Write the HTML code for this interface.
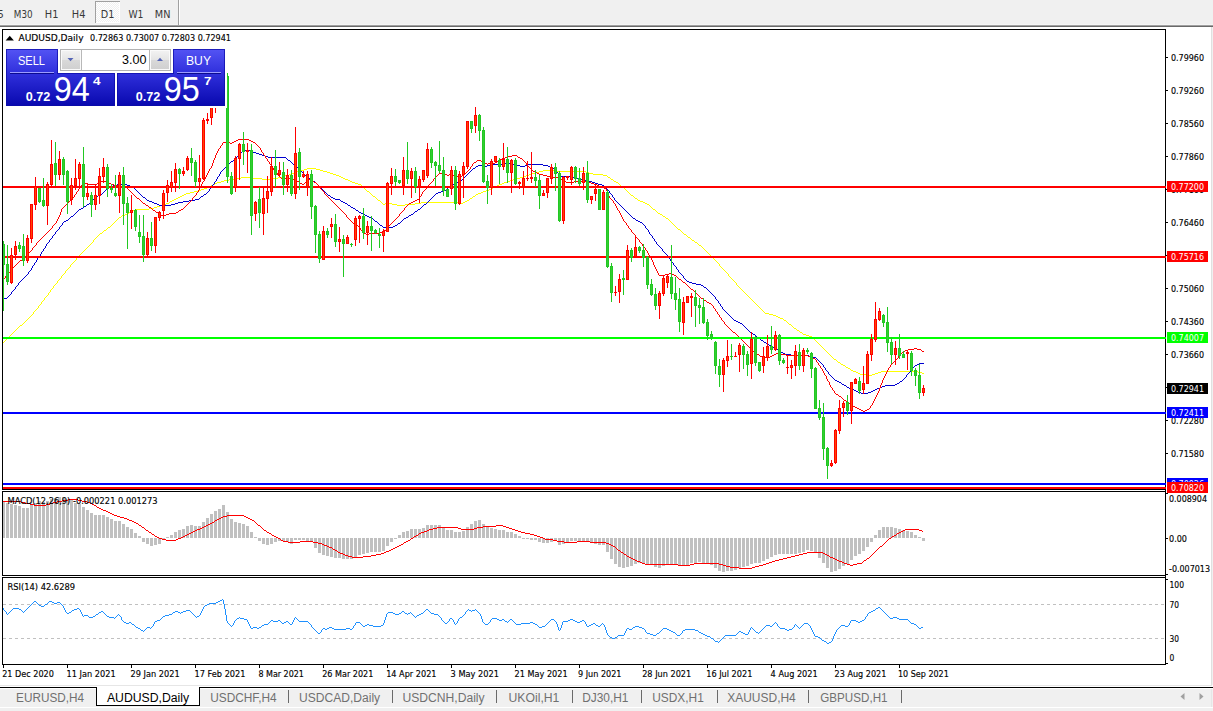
<!DOCTYPE html>
<html><head><meta charset="utf-8"><title>AUDUSD,Daily</title>
<style>
html,body{margin:0;padding:0;background:#fff;overflow:hidden}
svg{display:block;font-family:"Liberation Sans",Arial,sans-serif}
.c{shape-rendering:crispEdges}
</style></head><body>
<svg width="1213" height="711" viewBox="0 0 1213 711">
<defs>
<linearGradient id="gb" x1="0" y1="0" x2="0" y2="1"><stop offset="0" stop-color="#5454f4"/><stop offset="0.42" stop-color="#3030dc"/><stop offset="1" stop-color="#0808ae"/></linearGradient>
<linearGradient id="gs" x1="0" y1="0" x2="0" y2="1"><stop offset="0" stop-color="#f2f2f2"/><stop offset="0.5" stop-color="#e4e4e4"/><stop offset="0.5" stop-color="#d9d9d9"/><stop offset="1" stop-color="#d0d0d0"/></linearGradient>
<clipPath id="cm"><rect x="3" y="30" width="1162" height="459"/></clipPath>
<pattern id="dots" width="2" height="2" patternUnits="userSpaceOnUse"><rect width="2" height="2" fill="#f0f0f0"/><rect width="1" height="1" fill="#fff"/><rect x="1" y="1" width="1" height="1" fill="#fff"/></pattern>
</defs>
<g class="c">
<rect x="0" y="0" width="1213" height="711" fill="#fff"/>
<rect x="0" y="0" width="1213" height="24" fill="#f0f0f0"/>
<rect x="0" y="24" width="1213" height="1" fill="#f5f5f5"/>
<rect x="0" y="25" width="1213" height="1" fill="#a0a0a0"/>
<rect x="0" y="26" width="1213" height="1" fill="#696969"/>
<rect x="95" y="1" width="25" height="22" fill="url(#dots)"/>
<path d="M95.5 23V1.5H120" fill="none" stroke="#a0a0a0"/><path d="M119.5 2V22.5H96" fill="none" stroke="#fff"/>
<rect x="178" y="0" width="1" height="25" fill="#a0a0a0"/>
<rect x="179" y="0" width="1" height="25" fill="#fff"/>
<rect x="1211" y="27" width="1" height="658" fill="#e0e0e0"/>
<rect x="1212" y="27" width="1" height="658" fill="#f0f0f0"/>
<rect x="2" y="29" width="1164" height="1" fill="#000"/>
<rect x="2" y="489" width="1164" height="1" fill="#000"/>
<rect x="2" y="29" width="1" height="461" fill="#000"/>
<rect x="1165" y="29" width="1" height="461" fill="#000"/>
<rect x="2" y="491" width="1164" height="1" fill="#000"/>
<rect x="2" y="575" width="1164" height="1" fill="#000"/>
<rect x="2" y="491" width="1" height="85" fill="#000"/>
<rect x="1165" y="491" width="1" height="85" fill="#000"/>
<rect x="2" y="577" width="1164" height="1" fill="#000"/>
<rect x="2" y="664" width="1164" height="1" fill="#000"/>
<rect x="2" y="577" width="1" height="88" fill="#000"/>
<rect x="1165" y="577" width="1" height="88" fill="#000"/>
<rect x="1165" y="489" width="1" height="90" fill="#000"/>
</g>
<path d="M33.5 312v2M736.5 283v2M41.5 302v2M44.5 298v2M76.5 258v2M728.5 274v2M50.5 290v2M38.5 306v2M93.5 240v2M57.5 281v2M65.5 271v2M48.5 293v2M70.5 265v2M719.5 264v2M61.5 276v2M53.5 286v2M307 168.5h9M184 194.5h2M371 194.5h1M476 194.5h2M630 194.5h1M234 178.5h7M253 178.5h9M271 178.5h7M343 178.5h2M517 178.5h3M610 178.5h1M829 354.5h1M224 180.5h5M348 180.5h2M510 180.5h3M613 180.5h1M729 276.5h1M853 371.5h3M881 371.5h37M190 192.5h4M369 192.5h1M481 192.5h2M628 192.5h1M830 355.5h1M29 317.5h1M778 317.5h2M297 171.5h3M323 171.5h4M539 171.5h4M555 171.5h31M285 175.5h4M336 175.5h3M526 175.5h3M603 175.5h4M841 364.5h2M304 169.5h3M316 169.5h4M169 202.5h1M381 202.5h1M421 202.5h38M463 202.5h2M643 202.5h2M89 245.5h1M699 245.5h2M87 247.5h1M702 247.5h1M160 205.5h3M397 205.5h8M649 205.5h1M866 375.5h6M209 186.5h2M362 186.5h1M495 186.5h2M621 186.5h1M119 217.5h2M665 217.5h1M207 187.5h2M363 187.5h1M493 187.5h2M622 187.5h2M215 183.5h2M355 183.5h3M502 183.5h2M618 183.5h1M180 196.5h2M373 196.5h2M473 196.5h2M633 196.5h1M229 179.5h5M262 179.5h9M345 179.5h3M513 179.5h4M611 179.5h2M204 188.5h3M364 188.5h1M491 188.5h2M624 188.5h1M28 318.5h1M780 318.5h3M82 252.5h1M707 252.5h1M166 203.5h3M382 203.5h1M385 203.5h7M415 203.5h6M459 203.5h4M645 203.5h2M115 221.5h1M670 221.5h1M743 291.5h1M149 208.5h5M652 208.5h1M289 174.5h2M333 174.5h3M529 174.5h3M593 174.5h10M221 181.5h3M350 181.5h2M507 181.5h3M614 181.5h2M9 336.5h1M809 336.5h3M860 374.5h6M872 374.5h3M172 200.5h2M378 200.5h2M467 200.5h2M638 200.5h2M17 328.5h1M794 328.5h2M241 177.5h12M278 177.5h4M341 177.5h2M520 177.5h3M608 177.5h2M300 170.5h4M320 170.5h3M543 170.5h12M99 234.5h1M684 234.5h2M135 209.5h14M653 209.5h2M133 210.5h2M655 210.5h1M26 320.5h1M784 320.5h2M30 316.5h1M776 316.5h2M12 333.5h1M802 333.5h1M16 329.5h1M796 329.5h1M840 363.5h1M174 199.5h2M377 199.5h1M469 199.5h1M637 199.5h1M750 298.5h1M213 184.5h2M358 184.5h3M499 184.5h3M619 184.5h1M294 172.5h3M327 172.5h3M535 172.5h4M586 172.5h3M282 176.5h3M339 176.5h2M523 176.5h3M607 176.5h1M104 230.5h2M680 230.5h1M217 182.5h4M352 182.5h3M504 182.5h3M616 182.5h2M94 239.5h1M691 239.5h1M751 299.5h1M116 220.5h1M669 220.5h1M103 231.5h1M681 231.5h1M69 267.5h1M721 267.5h1M84 250.5h1M705 250.5h1M692 240.5h2M843 365.5h2M52 288.5h1M740 288.5h1M163 204.5h3M383 204.5h2M392 204.5h5M405 204.5h10M647 204.5h2M198 190.5h3M366 190.5h1M486 190.5h3M626 190.5h1M83 251.5h1M706 251.5h1M836 360.5h1M39 305.5h1M757 305.5h1M176 198.5h2M376 198.5h1M470 198.5h2M635 198.5h2M758 306.5h1M114 222.5h1M671 222.5h1M125 214.5h2M660 214.5h2M60 278.5h1M731 278.5h1M713 258.5h1M129 212.5h2M657 212.5h1M186 193.5h4M370 193.5h1M478 193.5h3M629 193.5h1M856 372.5h2M878 372.5h3M918 372.5h4M107 228.5h1M677 228.5h1M714 259.5h1M23 323.5h1M788 323.5h1M170 201.5h2M380 201.5h1M465 201.5h2M640 201.5h3M765 313.5h4M55 284.5h1M818 343.5h1M91 243.5h1M697 243.5h1M194 191.5h4M367 191.5h2M483 191.5h3M627 191.5h1M20 325.5h2M791 325.5h1M157 206.5h3M650 206.5h1M291 173.5h3M330 173.5h3M532 173.5h3M589 173.5h4M824 349.5h1M121 216.5h1M663 216.5h2M825 350.5h1M201 189.5h3M365 189.5h1M489 189.5h2M625 189.5h1M108 227.5h2M676 227.5h1M32 314.5h1M769 314.5h4M35 310.5h1M762 310.5h1M97 236.5h1M687 236.5h1M4 341.5h1M816 341.5h1M79 255.5h1M710 255.5h1M63 274.5h1M764 312.5h1M858 373.5h2M875 373.5h3M922 373.5h2M74 261.5h1M716 261.5h1M832 357.5h1M131 211.5h2M656 211.5h1M182 195.5h2M372 195.5h1M475 195.5h1M631 195.5h2M834 359.5h2M738 286.5h1M43 300.5h1M752 300.5h1M178 197.5h2M375 197.5h1M472 197.5h1M634 197.5h1M739 287.5h1M71 264.5h1M66 270.5h1M724 270.5h1M11 334.5h1M803 334.5h3M86 248.5h1M703 248.5h1M25 321.5h1M786 321.5h1M746 294.5h1M24 322.5h1M787 322.5h1M831 356.5h1M58 280.5h1M733 280.5h1M850 369.5h1M88 246.5h1M701 246.5h1M127 213.5h2M658 213.5h2M27 319.5h1M783 319.5h1M102 232.5h1M682 232.5h1M845 366.5h1M42 301.5h1M753 301.5h1M100 233.5h2M683 233.5h1M846 367.5h2M98 235.5h1M686 235.5h1M745 293.5h1M81 253.5h1M708 253.5h1M848 368.5h2M730 277.5h1M80 254.5h1M709 254.5h1M8 337.5h1M812 337.5h1M18 327.5h1M793 327.5h1M75 260.5h1M715 260.5h1M46 296.5h1M748 296.5h1M10 335.5h1M806 335.5h3M49 292.5h1M744 292.5h1M122 215.5h3M662 215.5h1M68 268.5h1M722 268.5h1M13 332.5h1M800 332.5h2M820 345.5h1M67 269.5h1M723 269.5h1M92 242.5h1M695 242.5h2M31 315.5h1M773 315.5h3M838 362.5h2M15 330.5h1M797 330.5h2M22 324.5h1M789 324.5h2M154 207.5h3M651 207.5h1M106 229.5h1M678 229.5h2M73 262.5h1M717 262.5h1M6 339.5h1M814 339.5h1M819 344.5h1M837 361.5h1M37 308.5h1M760 308.5h1M759 307.5h1M51 289.5h1M741 289.5h1M211 185.5h2M361 185.5h1M497 185.5h2M620 185.5h1M96 237.5h1M688 237.5h2M826 351.5h1M111 225.5h1M674 225.5h1M118 218.5h1M666 218.5h2M833 358.5h1M40 304.5h1M756 304.5h1M19 326.5h1M792 326.5h1M85 249.5h1M704 249.5h1M78 256.5h1M711 256.5h1M59 279.5h1M732 279.5h1M3 342.5h1M817 342.5h1M112 224.5h1M673 224.5h1M725 271.5h1M56 283.5h1M47 295.5h1M747 295.5h1M851 370.5h2M5 340.5h1M815 340.5h1M754 302.5h1M821 346.5h1M113 223.5h1M672 223.5h1M95 238.5h1M690 238.5h1M7 338.5h1M813 338.5h1M36 309.5h1M761 309.5h1M90 244.5h1M698 244.5h1M828 353.5h1M14 331.5h1M799 331.5h1M694 241.5h1M110 226.5h1M675 226.5h1M54 285.5h1M737 285.5h1M720 266.5h1M62 275.5h1M742 290.5h1M827 352.5h1M45 297.5h1M749 297.5h1M77 257.5h1M712 257.5h1M734 281.5h1M735 282.5h1M34 311.5h1M763 311.5h1M117 219.5h1M668 219.5h1M64 273.5h1M727 273.5h1M755 303.5h1M726 272.5h1M72 263.5h1M718 263.5h1M822 347.5h1M823 348.5h1" fill="none" stroke="#ffff00" stroke-width="1" shape-rendering="crispEdges"/>
<path d="M219.5 174v2M683.5 276v2M34.5 263v2M37.5 258v2M912.5 368v2M668.5 256v2M41.5 252v2M825.5 368v2M654.5 239v2M609.5 191v2M214.5 182v2M49.5 240v2M649.5 232v2M715.5 297v2M40.5 254v2M52.5 236v2M36.5 260v2M209.5 189v2M648.5 230v2M612.5 195v2M678.5 270v2M652.5 236v2M823.5 365v2M217.5 177v2M656.5 242v2M43.5 249v2M32.5 266v2M55.5 232v2M673.5 263v2M11.5 292v2M662.5 249v2M718.5 301v2M906.5 375v2M220.5 172v2M31.5 268v2M46.5 244v2M216.5 179v2M614.5 198v2M676.5 267v2M828.5 372v2M15.5 287v2M18.5 283v2M720.5 304v2M62.5 223v2M45.5 246v2M28.5 272v2M722.5 307v2M645.5 226v2M670.5 259v2M59.5 227v2M212.5 185v2M228 164.5h1M293 164.5h1M493 164.5h9M513 164.5h4M528 164.5h15M764 342.5h2M839 382.5h2M899 382.5h1M227 165.5h1M294 165.5h2M478 165.5h7M487 165.5h6M517 165.5h3M525 165.5h3M543 165.5h5M117 184.5h10M213 184.5h1M317 184.5h1M452 184.5h2M598 184.5h4M96 197.5h1M143 197.5h2M200 197.5h1M331 197.5h2M432 197.5h1M613 197.5h1M64 221.5h2M375 221.5h2M401 221.5h1M638 221.5h2M61 225.5h1M380 225.5h2M395 225.5h2M644 225.5h1M692 283.5h4M791 355.5h18M222 170.5h1M300 170.5h1M471 170.5h1M555 170.5h1M103 192.5h1M138 192.5h1M207 192.5h1M325 192.5h1M438 192.5h3M90 202.5h1M152 202.5h2M178 202.5h5M343 202.5h2M427 202.5h1M617 202.5h1M310 179.5h2M462 179.5h1M581 179.5h4M766 343.5h1M63 222.5h1M377 222.5h1M400 222.5h1M640 222.5h2M844 385.5h2M885 385.5h10M86 205.5h1M159 205.5h12M348 205.5h2M423 205.5h1M620 205.5h1M74 214.5h1M363 214.5h2M411 214.5h2M629 214.5h1M70 217.5h1M369 217.5h3M406 217.5h2M632 217.5h1M761 340.5h2M704 287.5h2M230 162.5h1M291 162.5h1M75 213.5h1M361 213.5h2M413 213.5h1M628 213.5h1M861 393.5h7M77 211.5h1M358 211.5h1M415 211.5h2M626 211.5h1M68 219.5h1M373 219.5h1M403 219.5h1M635 219.5h1M646 228.5h1M706 288.5h1M14 289.5h1M707 289.5h1M229 163.5h1M292 163.5h1M502 163.5h11M696 284.5h5M79 209.5h2M355 209.5h1M418 209.5h2M624 209.5h1M226 166.5h1M296 166.5h1M476 166.5h2M485 166.5h2M520 166.5h5M548 166.5h2M847 387.5h2M880 387.5h2M81 208.5h2M353 208.5h2M420 208.5h1M623 208.5h1M50 239.5h1M58 229.5h1M647 229.5h1M821 363.5h1M919 363.5h5M731 317.5h1M245 150.5h5M231 161.5h2M290 161.5h1M73 215.5h1M365 215.5h2M409 215.5h2M630 215.5h1M10 294.5h1M712 294.5h1M97 196.5h1M142 196.5h1M201 196.5h2M330 196.5h1M433 196.5h1M25 276.5h1M44 248.5h1M661 248.5h1M235 158.5h1M286 158.5h1M832 377.5h1M905 377.5h1M236 157.5h1M268 157.5h18M9 295.5h1M713 295.5h1M106 189.5h1M135 189.5h1M322 189.5h1M446 189.5h1M607 189.5h1M218 176.5h1M307 176.5h1M465 176.5h1M561 176.5h12M111 186.5h2M130 186.5h2M319 186.5h1M450 186.5h1M604 186.5h1M22 279.5h1M685 279.5h1M383 227.5h10M302 172.5h1M469 172.5h1M557 172.5h1M215 181.5h1M313 181.5h2M458 181.5h2M589 181.5h3M93 199.5h1M146 199.5h1M195 199.5h4M335 199.5h5M430 199.5h1M89 203.5h1M154 203.5h3M175 203.5h3M345 203.5h2M426 203.5h1M618 203.5h1M746 328.5h1M757 337.5h2M104 191.5h1M137 191.5h1M208 191.5h1M324 191.5h1M441 191.5h2M92 200.5h1M147 200.5h2M189 200.5h6M340 200.5h1M429 200.5h1M615 200.5h1M71 216.5h2M367 216.5h2M408 216.5h1M631 216.5h1M108 187.5h3M132 187.5h2M211 187.5h1M320 187.5h1M448 187.5h2M605 187.5h1M316 183.5h1M454 183.5h2M595 183.5h3M53 235.5h1M651 235.5h1M35 262.5h1M672 262.5h1M113 185.5h4M127 185.5h3M318 185.5h1M451 185.5h1M602 185.5h2M54 234.5h1M650 234.5h1M87 204.5h2M157 204.5h2M171 204.5h4M347 204.5h1M424 204.5h2M619 204.5h1M26 275.5h1M682 275.5h1M91 201.5h1M149 201.5h3M183 201.5h6M341 201.5h2M428 201.5h1M616 201.5h1M842 384.5h2M895 384.5h2M100 194.5h2M140 194.5h1M204 194.5h2M327 194.5h1M435 194.5h1M611 194.5h1M238 155.5h1M262 155.5h3M102 193.5h1M139 193.5h1M206 193.5h1M326 193.5h1M436 193.5h2M610 193.5h1M837 381.5h2M900 381.5h2M241 152.5h1M253 152.5h3M308 177.5h1M464 177.5h1M573 177.5h4M831 376.5h1M660 247.5h1M833 378.5h1M904 378.5h1M234 159.5h1M287 159.5h1M4 298.5h3M240 153.5h1M256 153.5h3M224 168.5h1M298 168.5h1M473 168.5h2M553 168.5h1M84 206.5h2M350 206.5h1M422 206.5h1M621 206.5h1M309 178.5h1M463 178.5h1M577 178.5h4M783 353.5h2M671 261.5h1M17 285.5h1M701 285.5h2M785 354.5h6M809 356.5h4M779 351.5h2M33 265.5h1M674 265.5h1M66 220.5h2M374 220.5h1M402 220.5h1M636 220.5h2M781 352.5h2M824 367.5h1M913 367.5h1M51 238.5h1M653 238.5h1M829 374.5h1M907 374.5h1M753 334.5h2M239 154.5h1M259 154.5h3M849 388.5h2M877 388.5h3M221 171.5h1M301 171.5h1M470 171.5h1M556 171.5h1M756 336.5h1M856 391.5h2M871 391.5h2M21 280.5h1M686 280.5h1M105 190.5h1M136 190.5h1M323 190.5h1M443 190.5h3M608 190.5h1M858 392.5h3M868 392.5h3M19 282.5h1M689 282.5h3M716 299.5h1M312 180.5h1M460 180.5h2M585 180.5h4M915 365.5h2M233 160.5h1M288 160.5h2M846 386.5h1M882 386.5h3M851 389.5h3M875 389.5h2M76 212.5h1M359 212.5h2M414 212.5h1M627 212.5h1M98 195.5h2M141 195.5h1M203 195.5h1M328 195.5h2M434 195.5h1M675 266.5h1M305 175.5h2M466 175.5h1M560 175.5h1M13 290.5h1M708 290.5h1M225 167.5h1M297 167.5h1M475 167.5h1M550 167.5h3M740 323.5h2M378 223.5h1M398 223.5h2M642 223.5h1M42 251.5h1M663 251.5h1M813 357.5h3M734 320.5h2M664 252.5h1M835 380.5h2M902 380.5h1M774 348.5h2M767 344.5h2M816 358.5h1M304 174.5h1M467 174.5h1M559 174.5h1M726 312.5h1M736 321.5h2M94 198.5h2M145 198.5h1M199 198.5h1M333 198.5h2M431 198.5h1M769 345.5h2M237 156.5h1M265 156.5h3M752 333.5h1M771 346.5h1M24 277.5h1M733 319.5h1M60 226.5h1M382 226.5h1M393 226.5h2M822 364.5h1M917 364.5h2M16 286.5h1M703 286.5h1M834 379.5h1M903 379.5h1M315 182.5h1M456 182.5h2M592 182.5h3M69 218.5h1M372 218.5h1M404 218.5h2M633 218.5h2M748 330.5h1M39 256.5h1M78 210.5h1M356 210.5h2M417 210.5h1M625 210.5h1M8 296.5h1M714 296.5h1M826 370.5h1M911 370.5h1M763 341.5h1M747 329.5h1M914 366.5h1M303 173.5h1M468 173.5h1M558 173.5h1M242 151.5h3M250 151.5h3M909 372.5h1M83 207.5h1M351 207.5h2M421 207.5h1M622 207.5h1M379 224.5h1M397 224.5h1M643 224.5h1M677 269.5h1M655 241.5h1M223 169.5h1M299 169.5h1M472 169.5h1M554 169.5h1M665 253.5h1M717 300.5h1M666 254.5h1M728 314.5h1M854 390.5h2M873 390.5h2M107 188.5h1M134 188.5h1M210 188.5h1M321 188.5h1M447 188.5h1M606 188.5h1M658 245.5h1M20 281.5h1M687 281.5h2M710 292.5h1M743 325.5h1M841 383.5h1M897 383.5h2M721 306.5h1M776 349.5h2M817 359.5h1M727 313.5h1M738 322.5h2M818 360.5h1M679 272.5h1M657 244.5h1M750 332.5h2M12 291.5h1M709 291.5h1M680 273.5h1M772 347.5h2M742 324.5h1M57 230.5h1M719 303.5h1M29 271.5h1M749 331.5h1M908 373.5h1M827 371.5h1M910 371.5h1M48 242.5h1M723 309.5h1M667 255.5h1M729 315.5h1M760 339.5h1M820 362.5h1M730 316.5h1M56 231.5h1M711 293.5h1M744 326.5h1M745 327.5h1M759 338.5h1M23 278.5h1M684 278.5h1M819 361.5h1M830 375.5h1M659 246.5h1M755 335.5h1M7 297.5h1M778 350.5h1M27 274.5h1M681 274.5h1M47 243.5h1M669 258.5h1M724 310.5h1M38 257.5h1M725 311.5h1M30 270.5h1M732 318.5h1" fill="none" stroke="#0000d0" stroke-width="1" shape-rendering="crispEdges"/>
<path d="M818.5 363v2M647.5 251v2M822.5 369v2M78.5 189v2M220.5 146v2M873.5 401v2M719.5 315v2M885.5 374v2M74.5 195v2M204.5 179v2M642.5 244v2M216.5 153v2M650.5 256v2M824.5 373v2M653.5 262v3M877.5 393v2M81.5 185v2M526.5 163v2M419.5 197v2M609.5 196v2M200.5 186v2M215.5 155v3M631.5 230v2M61.5 209v3M635.5 235v2M645.5 248v2M470.5 167v2M648.5 253v2M820.5 366v2M623.5 219v2M261.5 150v2M608.5 193v3M56.5 221v2M399.5 214v2M426.5 187v2M876.5 395v2M652.5 260v2M872.5 403v2M884.5 376v2M260.5 148v2M433.5 179v2M651.5 258v2M823.5 371v2M214.5 158v2M826.5 376v3M888.5 368v2M60.5 212v3M5.5 276v2M222.5 143v2M52.5 226v2M205.5 177v2M217.5 151v2M422.5 192v2M622.5 217v2M277.5 173v2M76.5 192v2M619.5 211v2M209.5 169v2M615.5 204v2M201.5 184v2M883.5 378v2M32.5 248v2M875.5 397v2M263.5 153v2M626.5 223v2M213.5 160v3M607.5 191v2M658.5 273v2M830.5 385v2M196.5 193v2M59.5 215v2M724.5 322v2M879.5 388v3M421.5 194v2M882.5 380v3M404.5 208v2M621.5 215v2M208.5 171v2M887.5 370v2M829.5 382v3M212.5 163v3M874.5 399v2M617.5 208v2M265.5 156v2M620.5 213v2M628.5 226v2M870.5 406v2M657.5 271v2M613.5 201v2M269.5 162v2M832.5 388v2M713.5 306v2M606.5 189v2M324.5 192v2M654.5 265v2M199.5 188v2M639.5 240v2M898.5 356v2M886.5 372v2M58.5 217v2M616.5 206v2M211.5 166v2M388.5 226v2M192.5 198v2M207.5 173v2M881.5 383v2M346.5 215v2M198.5 190v2M715.5 309v2M656.5 269v2M57.5 219v2M880.5 385v3M267.5 159v2M834.5 391v2M206.5 175v2M218.5 149v2M827.5 379v2M816.5 360v2M202.5 182v2M360.5 228v2M271.5 165v2M472.5 164v2M655.5 267v2M319.5 186v2M12.5 268v2M878.5 391v2M36.5 243v2M717.5 312v2M273.5 168v2M721.5 318v2M890.5 365v2M694 291.5h1M280 177.5h1M435 177.5h1M552 177.5h7M266 158.5h1M502 158.5h3M520 158.5h2M756 353.5h1M776 353.5h4M901 353.5h1M238 139.5h5M244 139.5h5M54 224.5h1M355 224.5h2M390 224.5h1M473 163.5h1M485 163.5h2M488 163.5h7M857 408.5h2M869 408.5h1M759 355.5h1M772 355.5h2M786 355.5h22M899 355.5h1M83 183.5h5M97 183.5h2M109 183.5h2M300 183.5h2M304 183.5h1M316 183.5h1M430 183.5h1M591 183.5h3M695 292.5h1M821 368.5h1M850 404.5h1M278 175.5h1M437 175.5h1M447 175.5h2M452 175.5h3M462 175.5h2M543 175.5h4M153 210.5h2M179 210.5h2M341 210.5h1M403 210.5h1M618 210.5h1M99 182.5h2M107 182.5h2M299 182.5h1M305 182.5h2M314 182.5h2M431 182.5h1M566 182.5h8M587 182.5h4M158 213.5h1M169 213.5h7M344 213.5h1M400 213.5h1M474 162.5h2M483 162.5h2M495 162.5h2M525 162.5h1M294 180.5h3M308 180.5h1M312 180.5h1M562 180.5h2M579 180.5h2M709 303.5h2M11 270.5h1M757 354.5h2M774 354.5h2M780 354.5h6M900 354.5h1M118 186.5h5M427 186.5h1M599 186.5h3M851 405.5h2M871 405.5h1M34 246.5h1M643 246.5h1M279 176.5h1M436 176.5h1M455 176.5h7M547 176.5h5M752 350.5h1M905 350.5h3M921 350.5h1M72 198.5h1M137 198.5h2M329 198.5h1M610 198.5h1M226 141.5h2M234 141.5h2M251 141.5h2M63 207.5h1M149 207.5h2M184 207.5h1M338 207.5h1M405 207.5h1M46 233.5h1M364 233.5h2M369 233.5h10M633 233.5h1M101 181.5h6M203 181.5h1M297 181.5h2M307 181.5h1M313 181.5h1M432 181.5h1M564 181.5h2M574 181.5h5M581 181.5h6M272 167.5h1M529 167.5h1M223 142.5h3M228 142.5h2M232 142.5h2M253 142.5h2M80 187.5h1M123 187.5h4M602 187.5h2M48 231.5h1M362 231.5h1M382 231.5h2M754 352.5h2M902 352.5h1M439 173.5h6M465 173.5h1M537 173.5h2M735 333.5h1M161 215.5h2M164 215.5h2M55 223.5h1M353 223.5h2M391 223.5h1M438 174.5h1M445 174.5h2M449 174.5h3M464 174.5h1M539 174.5h4M230 143.5h2M255 143.5h1M763 357.5h7M811 357.5h2M30 251.5h1M3 279.5h1M679 279.5h2M65 205.5h1M146 205.5h2M186 205.5h1M336 205.5h1M407 205.5h1M268 161.5h1M476 161.5h1M481 161.5h2M497 161.5h2M524 161.5h1M156 212.5h2M176 212.5h2M343 212.5h1M401 212.5h1M6 275.5h1M659 275.5h6M674 275.5h2M813 358.5h2M897 358.5h1M77 191.5h1M130 191.5h1M323 191.5h1M423 191.5h1M281 178.5h11M310 178.5h1M434 178.5h1M559 178.5h2M82 184.5h1M88 184.5h9M111 184.5h3M302 184.5h2M317 184.5h1M429 184.5h1M594 184.5h3M73 197.5h1M136 197.5h1M193 197.5h1M328 197.5h1M742 340.5h1M704 300.5h2M14 266.5h1M49 230.5h1M361 230.5h1M384 230.5h2M31 250.5h1M646 250.5h1M62 208.5h1M151 208.5h1M183 208.5h1M339 208.5h1M79 188.5h1M127 188.5h1M320 188.5h1M604 188.5h2M7 274.5h1M665 274.5h4M671 274.5h3M70 200.5h1M140 200.5h1M191 200.5h1M331 200.5h1M415 200.5h2M612 200.5h1M750 348.5h1M914 348.5h3M731 330.5h1M66 204.5h1M145 204.5h1M187 204.5h1M335 204.5h1M408 204.5h1M701 298.5h2M749 347.5h1M751 349.5h1M908 349.5h6M917 349.5h4M350 220.5h1M394 220.5h1M690 288.5h1M352 222.5h1M392 222.5h1M625 222.5h1M128 189.5h1M321 189.5h1M425 189.5h1M846 401.5h1M50 229.5h1M386 229.5h1M630 229.5h1M753 351.5h1M903 351.5h2M922 351.5h2M275 171.5h1M467 171.5h1M533 171.5h2M26 255.5h1M649 255.5h1M730 329.5h1M135 196.5h1M194 196.5h1M327 196.5h1M420 196.5h1M221 145.5h1M257 145.5h1M861 410.5h2M865 410.5h2M500 159.5h2M522 159.5h1M69 201.5h1M141 201.5h1M190 201.5h1M332 201.5h1M413 201.5h2M889 367.5h1M38 241.5h1M892 363.5h1M760 356.5h3M770 356.5h2M808 356.5h3M748 346.5h1M351 221.5h1M393 221.5h1M624 221.5h1M18 262.5h1M689 287.5h1M33 247.5h1M644 247.5h1M53 225.5h1M357 225.5h1M389 225.5h1M627 225.5h1M505 157.5h3M518 157.5h2M722 320.5h1M210 168.5h1M530 168.5h1M155 211.5h1M178 211.5h1M342 211.5h1M402 211.5h1M45 234.5h1M366 234.5h3M634 234.5h1M723 321.5h1M274 170.5h1M468 170.5h1M532 170.5h1M47 232.5h1M363 232.5h1M379 232.5h3M632 232.5h1M25 256.5h1M842 398.5h1M68 202.5h1M142 202.5h1M189 202.5h1M333 202.5h1M411 202.5h2M236 140.5h2M249 140.5h2M75 194.5h1M133 194.5h1M325 194.5h1M67 203.5h1M143 203.5h2M188 203.5h1M334 203.5h1M409 203.5h2M614 203.5h1M114 185.5h4M318 185.5h1M428 185.5h1M597 185.5h2M737 335.5h1M64 206.5h1M148 206.5h1M185 206.5h1M337 206.5h1M406 206.5h1M264 155.5h1M512 155.5h5M859 409.5h2M867 409.5h2M696 293.5h1M744 342.5h1M838 395.5h1M745 343.5h1M159 214.5h2M166 214.5h3M345 214.5h1M270 164.5h1M487 164.5h1M71 199.5h1M139 199.5h1M330 199.5h1M417 199.5h2M611 199.5h1M815 359.5h1M896 359.5h1M163 216.5h1M398 216.5h1M711 304.5h1M16 264.5h1M725 324.5h1M40 239.5h1M638 239.5h1M836 394.5h2M41 238.5h1M637 238.5h1M726 325.5h1M707 302.5h2M508 156.5h4M517 156.5h1M743 341.5h1M35 245.5h1M683 282.5h2M732 331.5h1M477 160.5h4M499 160.5h1M523 160.5h1M685 283.5h1M733 332.5h2M42 237.5h1M636 237.5h1M691 289.5h2M292 179.5h2M309 179.5h1M311 179.5h1M561 179.5h1M129 190.5h1M322 190.5h1M424 190.5h1M847 402.5h1M703 299.5h1M13 267.5h1M706 301.5h1M276 172.5h1M466 172.5h1M535 172.5h2M855 407.5h2M848 403.5h2M891 364.5h1M8 273.5h1M669 273.5h2M258 146.5h1M259 147.5h1M152 209.5h1M181 209.5h2M340 209.5h1M262 152.5h1M243 138.5h1M27 254.5h1M894 361.5h1M20 260.5h2M681 280.5h1M843 399.5h1M134 195.5h1M195 195.5h1M326 195.5h1M469 169.5h1M531 169.5h1M844 400.5h2M348 218.5h1M396 218.5h1M738 336.5h1M739 337.5h1M51 228.5h1M387 228.5h1M629 228.5h1M728 327.5h1M22 259.5h1M686 284.5h1M15 265.5h1M698 295.5h1M746 344.5h1M676 276.5h1M687 285.5h1M39 240.5h1M712 305.5h1M10 271.5h1M828 381.5h1M219 148.5h1M727 326.5h1M697 294.5h1M839 396.5h2M347 217.5h1M397 217.5h1M358 226.5h1M527 165.5h1M853 406.5h2M131 192.5h1M197 192.5h1M817 362.5h1M893 362.5h1M716 311.5h1M831 387.5h1M863 411.5h2M37 242.5h1M640 242.5h1M682 281.5h1M29 252.5h1M349 219.5h1M395 219.5h1M835 393.5h1M44 235.5h1M641 243.5h1M693 290.5h1M741 339.5h1M4 278.5h1M678 278.5h1M833 390.5h1M24 257.5h1M740 338.5h1M17 263.5h1M729 328.5h1M895 360.5h1M699 296.5h1M256 144.5h1M700 297.5h1M714 308.5h1M677 277.5h1M9 272.5h1M718 314.5h1M819 365.5h1M28 253.5h1M747 345.5h1M359 227.5h1M688 286.5h1M471 166.5h1M528 166.5h1M841 397.5h1M132 193.5h1M736 334.5h1M19 261.5h1M720 317.5h1M23 258.5h1M43 236.5h1M825 375.5h1" fill="none" stroke="#ff0000" stroke-width="1" shape-rendering="crispEdges"/>
<g class="c">
<rect x="3" y="186" width="1163" height="2" fill="#ff0000"/>
<rect x="3" y="256" width="1163" height="2" fill="#ff0000"/>
<rect x="3" y="337" width="1163" height="2" fill="#00ff00"/>
<rect x="3" y="412" width="1163" height="2" fill="#0000ff"/>
<rect x="3" y="483" width="1163" height="2" fill="#0000ff"/>
<rect x="3" y="487" width="1163" height="2" fill="#ff0000"/>
</g>
<g class="c" clip-path="url(#cm)">
<rect x="3" y="241" width="1" height="70" fill="#22c822"/>
<rect x="2" y="244" width="3" height="21" fill="#22c822"/>
<rect x="3" y="245" width="1" height="19" fill="#32cd32"/>
<rect x="7" y="245" width="1" height="40" fill="#22c822"/>
<rect x="6" y="264" width="3" height="18" fill="#22c822"/>
<rect x="7" y="265" width="1" height="16" fill="#32cd32"/>
<rect x="11" y="248" width="1" height="36" fill="#ff0000"/>
<rect x="10" y="255" width="3" height="28" fill="#ff0000"/>
<rect x="11" y="256" width="1" height="26" fill="#ff4500"/>
<rect x="15" y="241" width="1" height="19" fill="#ff0000"/>
<rect x="14" y="246" width="3" height="9" fill="#ff0000"/>
<rect x="15" y="247" width="1" height="7" fill="#ff4500"/>
<rect x="19" y="242" width="1" height="10" fill="#22c822"/>
<rect x="18" y="245" width="3" height="4" fill="#22c822"/>
<rect x="19" y="246" width="1" height="2" fill="#32cd32"/>
<rect x="23" y="234" width="1" height="32" fill="#22c822"/>
<rect x="22" y="246" width="3" height="15" fill="#22c822"/>
<rect x="23" y="247" width="1" height="13" fill="#32cd32"/>
<rect x="27" y="235" width="1" height="28" fill="#ff0000"/>
<rect x="26" y="238" width="3" height="23" fill="#ff0000"/>
<rect x="27" y="239" width="1" height="21" fill="#ff4500"/>
<rect x="31" y="204" width="1" height="39" fill="#ff0000"/>
<rect x="30" y="204" width="3" height="35" fill="#ff0000"/>
<rect x="31" y="205" width="1" height="33" fill="#ff4500"/>
<rect x="35" y="177" width="1" height="33" fill="#ff0000"/>
<rect x="34" y="186" width="3" height="19" fill="#ff0000"/>
<rect x="35" y="187" width="1" height="17" fill="#ff4500"/>
<rect x="39" y="188" width="1" height="15" fill="#22c822"/>
<rect x="38" y="188" width="3" height="14" fill="#22c822"/>
<rect x="39" y="189" width="1" height="12" fill="#32cd32"/>
<rect x="43" y="178" width="1" height="29" fill="#22c822"/>
<rect x="42" y="200" width="3" height="6" fill="#22c822"/>
<rect x="43" y="201" width="1" height="4" fill="#32cd32"/>
<rect x="47" y="182" width="1" height="43" fill="#ff0000"/>
<rect x="46" y="184" width="3" height="22" fill="#ff0000"/>
<rect x="47" y="185" width="1" height="20" fill="#ff4500"/>
<rect x="51" y="140" width="1" height="46" fill="#ff0000"/>
<rect x="50" y="164" width="3" height="21" fill="#ff0000"/>
<rect x="51" y="165" width="1" height="19" fill="#ff4500"/>
<rect x="55" y="142" width="1" height="44" fill="#22c822"/>
<rect x="54" y="163" width="3" height="12" fill="#22c822"/>
<rect x="55" y="164" width="1" height="10" fill="#32cd32"/>
<rect x="59" y="151" width="1" height="29" fill="#ff0000"/>
<rect x="58" y="159" width="3" height="16" fill="#ff0000"/>
<rect x="59" y="160" width="1" height="14" fill="#ff4500"/>
<rect x="63" y="157" width="1" height="28" fill="#22c822"/>
<rect x="62" y="159" width="3" height="16" fill="#22c822"/>
<rect x="63" y="160" width="1" height="14" fill="#32cd32"/>
<rect x="67" y="170" width="1" height="44" fill="#22c822"/>
<rect x="66" y="171" width="3" height="31" fill="#22c822"/>
<rect x="67" y="172" width="1" height="29" fill="#32cd32"/>
<rect x="71" y="178" width="1" height="27" fill="#ff0000"/>
<rect x="70" y="185" width="3" height="15" fill="#ff0000"/>
<rect x="71" y="186" width="1" height="13" fill="#ff4500"/>
<rect x="75" y="159" width="1" height="31" fill="#ff0000"/>
<rect x="74" y="178" width="3" height="8" fill="#ff0000"/>
<rect x="75" y="179" width="1" height="6" fill="#ff4500"/>
<rect x="79" y="162" width="1" height="24" fill="#ff0000"/>
<rect x="78" y="164" width="3" height="15" fill="#ff0000"/>
<rect x="79" y="165" width="1" height="13" fill="#ff4500"/>
<rect x="83" y="147" width="1" height="60" fill="#22c822"/>
<rect x="82" y="164" width="3" height="33" fill="#22c822"/>
<rect x="83" y="165" width="1" height="31" fill="#32cd32"/>
<rect x="87" y="184" width="1" height="16" fill="#ff0000"/>
<rect x="86" y="193" width="3" height="4" fill="#ff0000"/>
<rect x="87" y="194" width="1" height="2" fill="#ff4500"/>
<rect x="91" y="192" width="1" height="25" fill="#22c822"/>
<rect x="90" y="195" width="3" height="10" fill="#22c822"/>
<rect x="91" y="196" width="1" height="8" fill="#32cd32"/>
<rect x="95" y="184" width="1" height="26" fill="#ff0000"/>
<rect x="94" y="195" width="3" height="10" fill="#ff0000"/>
<rect x="95" y="196" width="1" height="8" fill="#ff4500"/>
<rect x="99" y="168" width="1" height="36" fill="#ff0000"/>
<rect x="98" y="176" width="3" height="20" fill="#ff0000"/>
<rect x="99" y="177" width="1" height="18" fill="#ff4500"/>
<rect x="103" y="158" width="1" height="25" fill="#ff0000"/>
<rect x="102" y="167" width="3" height="10" fill="#ff0000"/>
<rect x="103" y="168" width="1" height="8" fill="#ff4500"/>
<rect x="107" y="164" width="1" height="33" fill="#22c822"/>
<rect x="106" y="167" width="3" height="22" fill="#22c822"/>
<rect x="107" y="168" width="1" height="20" fill="#32cd32"/>
<rect x="111" y="184" width="1" height="9" fill="#22c822"/>
<rect x="110" y="188" width="3" height="2" fill="#22c822"/>
<rect x="115" y="175" width="1" height="22" fill="#22c822"/>
<rect x="114" y="193" width="3" height="3" fill="#22c822"/>
<rect x="115" y="194" width="1" height="1" fill="#32cd32"/>
<rect x="119" y="172" width="1" height="41" fill="#ff0000"/>
<rect x="118" y="175" width="3" height="21" fill="#ff0000"/>
<rect x="119" y="176" width="1" height="19" fill="#ff4500"/>
<rect x="123" y="167" width="1" height="58" fill="#22c822"/>
<rect x="122" y="175" width="3" height="29" fill="#22c822"/>
<rect x="123" y="176" width="1" height="27" fill="#32cd32"/>
<rect x="127" y="197" width="1" height="52" fill="#22c822"/>
<rect x="126" y="203" width="3" height="10" fill="#22c822"/>
<rect x="127" y="204" width="1" height="8" fill="#32cd32"/>
<rect x="131" y="195" width="1" height="34" fill="#ff0000"/>
<rect x="130" y="210" width="3" height="3" fill="#ff0000"/>
<rect x="131" y="211" width="1" height="1" fill="#ff4500"/>
<rect x="135" y="209" width="1" height="22" fill="#22c822"/>
<rect x="134" y="210" width="3" height="17" fill="#22c822"/>
<rect x="135" y="211" width="1" height="15" fill="#32cd32"/>
<rect x="139" y="215" width="1" height="28" fill="#22c822"/>
<rect x="138" y="232" width="3" height="5" fill="#22c822"/>
<rect x="139" y="233" width="1" height="3" fill="#32cd32"/>
<rect x="143" y="215" width="1" height="47" fill="#22c822"/>
<rect x="142" y="236" width="3" height="19" fill="#22c822"/>
<rect x="143" y="237" width="1" height="17" fill="#32cd32"/>
<rect x="147" y="232" width="1" height="24" fill="#ff0000"/>
<rect x="146" y="238" width="3" height="17" fill="#ff0000"/>
<rect x="147" y="239" width="1" height="15" fill="#ff4500"/>
<rect x="151" y="222" width="1" height="29" fill="#22c822"/>
<rect x="150" y="238" width="3" height="8" fill="#22c822"/>
<rect x="151" y="239" width="1" height="6" fill="#32cd32"/>
<rect x="155" y="217" width="1" height="36" fill="#ff0000"/>
<rect x="154" y="217" width="3" height="29" fill="#ff0000"/>
<rect x="155" y="218" width="1" height="27" fill="#ff4500"/>
<rect x="159" y="211" width="1" height="10" fill="#ff0000"/>
<rect x="158" y="212" width="3" height="6" fill="#ff0000"/>
<rect x="159" y="213" width="1" height="4" fill="#ff4500"/>
<rect x="163" y="190" width="1" height="29" fill="#ff0000"/>
<rect x="162" y="193" width="3" height="18" fill="#ff0000"/>
<rect x="163" y="194" width="1" height="16" fill="#ff4500"/>
<rect x="167" y="180" width="1" height="22" fill="#ff0000"/>
<rect x="166" y="185" width="3" height="8" fill="#ff0000"/>
<rect x="167" y="186" width="1" height="6" fill="#ff4500"/>
<rect x="171" y="171" width="1" height="21" fill="#ff0000"/>
<rect x="170" y="182" width="3" height="6" fill="#ff0000"/>
<rect x="171" y="183" width="1" height="4" fill="#ff4500"/>
<rect x="175" y="163" width="1" height="29" fill="#ff0000"/>
<rect x="174" y="169" width="3" height="14" fill="#ff0000"/>
<rect x="175" y="170" width="1" height="12" fill="#ff4500"/>
<rect x="179" y="168" width="1" height="21" fill="#22c822"/>
<rect x="178" y="169" width="3" height="5" fill="#22c822"/>
<rect x="179" y="170" width="1" height="3" fill="#32cd32"/>
<rect x="183" y="167" width="1" height="9" fill="#ff0000"/>
<rect x="182" y="171" width="3" height="3" fill="#ff0000"/>
<rect x="183" y="172" width="1" height="1" fill="#ff4500"/>
<rect x="187" y="156" width="1" height="15" fill="#ff0000"/>
<rect x="186" y="158" width="3" height="12" fill="#ff0000"/>
<rect x="187" y="159" width="1" height="10" fill="#ff4500"/>
<rect x="191" y="148" width="1" height="28" fill="#22c822"/>
<rect x="190" y="158" width="3" height="5" fill="#22c822"/>
<rect x="191" y="159" width="1" height="3" fill="#32cd32"/>
<rect x="195" y="160" width="1" height="27" fill="#22c822"/>
<rect x="194" y="162" width="3" height="20" fill="#22c822"/>
<rect x="195" y="163" width="1" height="18" fill="#32cd32"/>
<rect x="199" y="155" width="1" height="32" fill="#ff0000"/>
<rect x="198" y="178" width="3" height="4" fill="#ff0000"/>
<rect x="199" y="179" width="1" height="2" fill="#ff4500"/>
<rect x="203" y="118" width="1" height="62" fill="#ff0000"/>
<rect x="202" y="120" width="3" height="59" fill="#ff0000"/>
<rect x="203" y="121" width="1" height="57" fill="#ff4500"/>
<rect x="207" y="113" width="1" height="11" fill="#ff0000"/>
<rect x="206" y="119" width="3" height="2" fill="#ff0000"/>
<rect x="211" y="98" width="1" height="27" fill="#ff0000"/>
<rect x="210" y="104" width="3" height="14" fill="#ff0000"/>
<rect x="211" y="105" width="1" height="12" fill="#ff4500"/>
<rect x="215" y="90" width="1" height="23" fill="#ff0000"/>
<rect x="214" y="96" width="3" height="8" fill="#ff0000"/>
<rect x="215" y="97" width="1" height="6" fill="#ff4500"/>
<rect x="219" y="80" width="1" height="20" fill="#ff0000"/>
<rect x="218" y="84" width="3" height="14" fill="#ff0000"/>
<rect x="219" y="85" width="1" height="12" fill="#ff4500"/>
<rect x="223" y="74" width="1" height="30" fill="#22c822"/>
<rect x="222" y="80" width="3" height="20" fill="#22c822"/>
<rect x="223" y="81" width="1" height="18" fill="#32cd32"/>
<rect x="227" y="73" width="1" height="110" fill="#22c822"/>
<rect x="226" y="76" width="3" height="101" fill="#22c822"/>
<rect x="227" y="77" width="1" height="99" fill="#32cd32"/>
<rect x="231" y="172" width="1" height="23" fill="#22c822"/>
<rect x="230" y="176" width="3" height="18" fill="#22c822"/>
<rect x="231" y="177" width="1" height="16" fill="#32cd32"/>
<rect x="235" y="156" width="1" height="36" fill="#ff0000"/>
<rect x="234" y="158" width="3" height="30" fill="#ff0000"/>
<rect x="235" y="159" width="1" height="28" fill="#ff4500"/>
<rect x="239" y="143" width="1" height="37" fill="#ff0000"/>
<rect x="238" y="144" width="3" height="15" fill="#ff0000"/>
<rect x="239" y="145" width="1" height="13" fill="#ff4500"/>
<rect x="243" y="132" width="1" height="33" fill="#22c822"/>
<rect x="242" y="144" width="3" height="8" fill="#22c822"/>
<rect x="243" y="145" width="1" height="6" fill="#32cd32"/>
<rect x="247" y="143" width="1" height="30" fill="#ff0000"/>
<rect x="246" y="150" width="3" height="2" fill="#ff0000"/>
<rect x="251" y="144" width="1" height="91" fill="#22c822"/>
<rect x="250" y="150" width="3" height="66" fill="#22c822"/>
<rect x="251" y="151" width="1" height="64" fill="#32cd32"/>
<rect x="255" y="201" width="1" height="20" fill="#ff0000"/>
<rect x="254" y="202" width="3" height="12" fill="#ff0000"/>
<rect x="255" y="203" width="1" height="10" fill="#ff4500"/>
<rect x="259" y="187" width="1" height="41" fill="#22c822"/>
<rect x="258" y="199" width="3" height="14" fill="#22c822"/>
<rect x="259" y="200" width="1" height="12" fill="#32cd32"/>
<rect x="263" y="187" width="1" height="48" fill="#ff0000"/>
<rect x="262" y="198" width="3" height="16" fill="#ff0000"/>
<rect x="263" y="199" width="1" height="14" fill="#ff4500"/>
<rect x="267" y="176" width="1" height="37" fill="#ff0000"/>
<rect x="266" y="191" width="3" height="8" fill="#ff0000"/>
<rect x="267" y="192" width="1" height="6" fill="#ff4500"/>
<rect x="271" y="157" width="1" height="39" fill="#ff0000"/>
<rect x="270" y="166" width="3" height="26" fill="#ff0000"/>
<rect x="271" y="167" width="1" height="24" fill="#ff4500"/>
<rect x="275" y="150" width="1" height="37" fill="#22c822"/>
<rect x="274" y="166" width="3" height="9" fill="#22c822"/>
<rect x="275" y="167" width="1" height="7" fill="#32cd32"/>
<rect x="279" y="162" width="1" height="14" fill="#ff0000"/>
<rect x="278" y="170" width="3" height="5" fill="#ff0000"/>
<rect x="279" y="171" width="1" height="3" fill="#ff4500"/>
<rect x="283" y="162" width="1" height="33" fill="#22c822"/>
<rect x="282" y="172" width="3" height="13" fill="#22c822"/>
<rect x="283" y="173" width="1" height="11" fill="#32cd32"/>
<rect x="287" y="169" width="1" height="23" fill="#ff0000"/>
<rect x="286" y="175" width="3" height="10" fill="#ff0000"/>
<rect x="287" y="176" width="1" height="8" fill="#ff4500"/>
<rect x="291" y="170" width="1" height="26" fill="#22c822"/>
<rect x="290" y="175" width="3" height="19" fill="#22c822"/>
<rect x="291" y="176" width="1" height="17" fill="#32cd32"/>
<rect x="295" y="127" width="1" height="72" fill="#ff0000"/>
<rect x="294" y="153" width="3" height="41" fill="#ff0000"/>
<rect x="295" y="154" width="1" height="39" fill="#ff4500"/>
<rect x="299" y="148" width="1" height="42" fill="#22c822"/>
<rect x="298" y="152" width="3" height="25" fill="#22c822"/>
<rect x="299" y="153" width="1" height="23" fill="#32cd32"/>
<rect x="303" y="171" width="1" height="7" fill="#ff0000"/>
<rect x="302" y="174" width="3" height="3" fill="#ff0000"/>
<rect x="303" y="175" width="1" height="1" fill="#ff4500"/>
<rect x="307" y="171" width="1" height="25" fill="#ff0000"/>
<rect x="306" y="174" width="3" height="13" fill="#ff0000"/>
<rect x="307" y="175" width="1" height="11" fill="#ff4500"/>
<rect x="311" y="170" width="1" height="49" fill="#22c822"/>
<rect x="310" y="174" width="3" height="33" fill="#22c822"/>
<rect x="311" y="175" width="1" height="31" fill="#32cd32"/>
<rect x="315" y="205" width="1" height="48" fill="#22c822"/>
<rect x="314" y="206" width="3" height="29" fill="#22c822"/>
<rect x="315" y="207" width="1" height="27" fill="#32cd32"/>
<rect x="319" y="231" width="1" height="32" fill="#22c822"/>
<rect x="318" y="234" width="3" height="25" fill="#22c822"/>
<rect x="319" y="235" width="1" height="23" fill="#32cd32"/>
<rect x="323" y="226" width="1" height="34" fill="#ff0000"/>
<rect x="322" y="231" width="3" height="29" fill="#ff0000"/>
<rect x="323" y="232" width="1" height="27" fill="#ff4500"/>
<rect x="327" y="228" width="1" height="10" fill="#22c822"/>
<rect x="326" y="231" width="3" height="4" fill="#22c822"/>
<rect x="327" y="232" width="1" height="2" fill="#32cd32"/>
<rect x="331" y="218" width="1" height="20" fill="#ff0000"/>
<rect x="330" y="224" width="3" height="3" fill="#ff0000"/>
<rect x="331" y="225" width="1" height="1" fill="#ff4500"/>
<rect x="335" y="214" width="1" height="33" fill="#22c822"/>
<rect x="334" y="224" width="3" height="18" fill="#22c822"/>
<rect x="335" y="225" width="1" height="16" fill="#32cd32"/>
<rect x="339" y="227" width="1" height="25" fill="#ff0000"/>
<rect x="338" y="239" width="3" height="3" fill="#ff0000"/>
<rect x="339" y="240" width="1" height="1" fill="#ff4500"/>
<rect x="343" y="235" width="1" height="42" fill="#22c822"/>
<rect x="342" y="239" width="3" height="5" fill="#22c822"/>
<rect x="343" y="240" width="1" height="3" fill="#32cd32"/>
<rect x="347" y="235" width="1" height="9" fill="#ff0000"/>
<rect x="346" y="237" width="3" height="7" fill="#ff0000"/>
<rect x="347" y="238" width="1" height="5" fill="#ff4500"/>
<rect x="351" y="243" width="1" height="4" fill="#22c822"/>
<rect x="350" y="244" width="3" height="1" fill="#22c822"/>
<rect x="355" y="216" width="1" height="30" fill="#ff0000"/>
<rect x="354" y="218" width="3" height="22" fill="#ff0000"/>
<rect x="355" y="219" width="1" height="20" fill="#ff4500"/>
<rect x="359" y="215" width="1" height="28" fill="#ff0000"/>
<rect x="358" y="216" width="3" height="3" fill="#ff0000"/>
<rect x="359" y="217" width="1" height="1" fill="#ff4500"/>
<rect x="363" y="208" width="1" height="31" fill="#22c822"/>
<rect x="362" y="216" width="3" height="17" fill="#22c822"/>
<rect x="363" y="217" width="1" height="15" fill="#32cd32"/>
<rect x="367" y="221" width="1" height="24" fill="#ff0000"/>
<rect x="366" y="226" width="3" height="7" fill="#ff0000"/>
<rect x="367" y="227" width="1" height="5" fill="#ff4500"/>
<rect x="371" y="216" width="1" height="35" fill="#22c822"/>
<rect x="370" y="226" width="3" height="5" fill="#22c822"/>
<rect x="371" y="227" width="1" height="3" fill="#32cd32"/>
<rect x="375" y="229" width="1" height="5" fill="#22c822"/>
<rect x="374" y="230" width="3" height="3" fill="#22c822"/>
<rect x="375" y="231" width="1" height="1" fill="#32cd32"/>
<rect x="379" y="228" width="1" height="20" fill="#22c822"/>
<rect x="378" y="234" width="3" height="2" fill="#22c822"/>
<rect x="383" y="229" width="1" height="23" fill="#ff0000"/>
<rect x="382" y="231" width="3" height="5" fill="#ff0000"/>
<rect x="383" y="232" width="1" height="3" fill="#ff4500"/>
<rect x="387" y="182" width="1" height="50" fill="#ff0000"/>
<rect x="386" y="183" width="3" height="49" fill="#ff0000"/>
<rect x="387" y="184" width="1" height="47" fill="#ff4500"/>
<rect x="391" y="168" width="1" height="27" fill="#ff0000"/>
<rect x="390" y="176" width="3" height="8" fill="#ff0000"/>
<rect x="391" y="177" width="1" height="6" fill="#ff4500"/>
<rect x="395" y="169" width="1" height="17" fill="#22c822"/>
<rect x="394" y="176" width="3" height="6" fill="#22c822"/>
<rect x="395" y="177" width="1" height="4" fill="#32cd32"/>
<rect x="399" y="180" width="1" height="4" fill="#22c822"/>
<rect x="398" y="180" width="3" height="3" fill="#22c822"/>
<rect x="399" y="181" width="1" height="1" fill="#32cd32"/>
<rect x="403" y="157" width="1" height="38" fill="#ff0000"/>
<rect x="402" y="170" width="3" height="16" fill="#ff0000"/>
<rect x="403" y="171" width="1" height="14" fill="#ff4500"/>
<rect x="407" y="142" width="1" height="42" fill="#22c822"/>
<rect x="406" y="170" width="3" height="9" fill="#22c822"/>
<rect x="407" y="171" width="1" height="7" fill="#32cd32"/>
<rect x="411" y="168" width="1" height="30" fill="#ff0000"/>
<rect x="410" y="171" width="3" height="8" fill="#ff0000"/>
<rect x="411" y="172" width="1" height="6" fill="#ff4500"/>
<rect x="415" y="167" width="1" height="26" fill="#22c822"/>
<rect x="414" y="171" width="3" height="16" fill="#22c822"/>
<rect x="415" y="172" width="1" height="14" fill="#32cd32"/>
<rect x="419" y="176" width="1" height="27" fill="#ff0000"/>
<rect x="418" y="179" width="3" height="8" fill="#ff0000"/>
<rect x="419" y="180" width="1" height="6" fill="#ff4500"/>
<rect x="423" y="170" width="1" height="12" fill="#ff0000"/>
<rect x="422" y="170" width="3" height="10" fill="#ff0000"/>
<rect x="423" y="171" width="1" height="8" fill="#ff4500"/>
<rect x="427" y="143" width="1" height="35" fill="#ff0000"/>
<rect x="426" y="149" width="3" height="27" fill="#ff0000"/>
<rect x="427" y="150" width="1" height="25" fill="#ff4500"/>
<rect x="431" y="147" width="1" height="21" fill="#22c822"/>
<rect x="430" y="149" width="3" height="14" fill="#22c822"/>
<rect x="431" y="150" width="1" height="12" fill="#32cd32"/>
<rect x="435" y="161" width="1" height="25" fill="#22c822"/>
<rect x="434" y="162" width="3" height="4" fill="#22c822"/>
<rect x="435" y="163" width="1" height="2" fill="#32cd32"/>
<rect x="439" y="141" width="1" height="32" fill="#22c822"/>
<rect x="438" y="165" width="3" height="6" fill="#22c822"/>
<rect x="439" y="166" width="1" height="4" fill="#32cd32"/>
<rect x="443" y="157" width="1" height="39" fill="#22c822"/>
<rect x="442" y="170" width="3" height="21" fill="#22c822"/>
<rect x="443" y="171" width="1" height="19" fill="#32cd32"/>
<rect x="447" y="189" width="1" height="8" fill="#22c822"/>
<rect x="446" y="189" width="3" height="8" fill="#22c822"/>
<rect x="447" y="190" width="1" height="6" fill="#32cd32"/>
<rect x="451" y="166" width="1" height="29" fill="#ff0000"/>
<rect x="450" y="170" width="3" height="19" fill="#ff0000"/>
<rect x="451" y="171" width="1" height="17" fill="#ff4500"/>
<rect x="455" y="166" width="1" height="44" fill="#22c822"/>
<rect x="454" y="170" width="3" height="34" fill="#22c822"/>
<rect x="455" y="171" width="1" height="32" fill="#32cd32"/>
<rect x="459" y="171" width="1" height="34" fill="#ff0000"/>
<rect x="458" y="174" width="3" height="30" fill="#ff0000"/>
<rect x="459" y="175" width="1" height="28" fill="#ff4500"/>
<rect x="463" y="162" width="1" height="36" fill="#ff0000"/>
<rect x="462" y="166" width="3" height="9" fill="#ff0000"/>
<rect x="463" y="167" width="1" height="7" fill="#ff4500"/>
<rect x="467" y="121" width="1" height="48" fill="#ff0000"/>
<rect x="466" y="121" width="3" height="46" fill="#ff0000"/>
<rect x="467" y="122" width="1" height="44" fill="#ff4500"/>
<rect x="471" y="121" width="1" height="12" fill="#22c822"/>
<rect x="470" y="121" width="3" height="8" fill="#22c822"/>
<rect x="471" y="122" width="1" height="6" fill="#32cd32"/>
<rect x="475" y="107" width="1" height="26" fill="#ff0000"/>
<rect x="474" y="115" width="3" height="11" fill="#ff0000"/>
<rect x="475" y="116" width="1" height="9" fill="#ff4500"/>
<rect x="479" y="114" width="1" height="27" fill="#22c822"/>
<rect x="478" y="115" width="3" height="16" fill="#22c822"/>
<rect x="479" y="116" width="1" height="14" fill="#32cd32"/>
<rect x="483" y="127" width="1" height="56" fill="#22c822"/>
<rect x="482" y="130" width="3" height="52" fill="#22c822"/>
<rect x="483" y="131" width="1" height="50" fill="#32cd32"/>
<rect x="487" y="175" width="1" height="29" fill="#22c822"/>
<rect x="486" y="181" width="3" height="7" fill="#22c822"/>
<rect x="487" y="182" width="1" height="5" fill="#32cd32"/>
<rect x="491" y="159" width="1" height="36" fill="#ff0000"/>
<rect x="490" y="161" width="3" height="27" fill="#ff0000"/>
<rect x="491" y="162" width="1" height="25" fill="#ff4500"/>
<rect x="495" y="156" width="1" height="7" fill="#ff0000"/>
<rect x="494" y="156" width="3" height="6" fill="#ff0000"/>
<rect x="495" y="157" width="1" height="4" fill="#ff4500"/>
<rect x="499" y="158" width="1" height="26" fill="#22c822"/>
<rect x="498" y="160" width="3" height="7" fill="#22c822"/>
<rect x="499" y="161" width="1" height="5" fill="#32cd32"/>
<rect x="503" y="143" width="1" height="27" fill="#ff0000"/>
<rect x="502" y="159" width="3" height="8" fill="#ff0000"/>
<rect x="503" y="160" width="1" height="6" fill="#ff4500"/>
<rect x="507" y="147" width="1" height="36" fill="#22c822"/>
<rect x="506" y="159" width="3" height="14" fill="#22c822"/>
<rect x="507" y="160" width="1" height="12" fill="#32cd32"/>
<rect x="511" y="159" width="1" height="34" fill="#ff0000"/>
<rect x="510" y="160" width="3" height="13" fill="#ff0000"/>
<rect x="511" y="161" width="1" height="11" fill="#ff4500"/>
<rect x="515" y="158" width="1" height="27" fill="#22c822"/>
<rect x="514" y="160" width="3" height="24" fill="#22c822"/>
<rect x="515" y="161" width="1" height="22" fill="#32cd32"/>
<rect x="519" y="181" width="1" height="8" fill="#ff0000"/>
<rect x="518" y="182" width="3" height="2" fill="#ff0000"/>
<rect x="523" y="171" width="1" height="24" fill="#ff0000"/>
<rect x="522" y="178" width="3" height="9" fill="#ff0000"/>
<rect x="523" y="179" width="1" height="7" fill="#ff4500"/>
<rect x="527" y="161" width="1" height="20" fill="#ff0000"/>
<rect x="526" y="178" width="3" height="1" fill="#ff0000"/>
<rect x="531" y="152" width="1" height="31" fill="#ff0000"/>
<rect x="530" y="177" width="3" height="2" fill="#ff0000"/>
<rect x="535" y="170" width="1" height="17" fill="#22c822"/>
<rect x="534" y="177" width="3" height="4" fill="#22c822"/>
<rect x="535" y="178" width="1" height="2" fill="#32cd32"/>
<rect x="539" y="175" width="1" height="34" fill="#22c822"/>
<rect x="538" y="180" width="3" height="16" fill="#22c822"/>
<rect x="539" y="181" width="1" height="14" fill="#32cd32"/>
<rect x="543" y="190" width="1" height="6" fill="#ff0000"/>
<rect x="542" y="193" width="3" height="3" fill="#ff0000"/>
<rect x="543" y="194" width="1" height="1" fill="#ff4500"/>
<rect x="547" y="178" width="1" height="20" fill="#ff0000"/>
<rect x="546" y="178" width="3" height="15" fill="#ff0000"/>
<rect x="547" y="179" width="1" height="13" fill="#ff4500"/>
<rect x="551" y="164" width="1" height="20" fill="#ff0000"/>
<rect x="550" y="167" width="3" height="12" fill="#ff0000"/>
<rect x="551" y="168" width="1" height="10" fill="#ff4500"/>
<rect x="555" y="163" width="1" height="28" fill="#22c822"/>
<rect x="554" y="167" width="3" height="7" fill="#22c822"/>
<rect x="555" y="168" width="1" height="5" fill="#32cd32"/>
<rect x="559" y="171" width="1" height="51" fill="#22c822"/>
<rect x="558" y="173" width="3" height="48" fill="#22c822"/>
<rect x="559" y="174" width="1" height="46" fill="#32cd32"/>
<rect x="563" y="176" width="1" height="48" fill="#ff0000"/>
<rect x="562" y="177" width="3" height="44" fill="#ff0000"/>
<rect x="563" y="178" width="1" height="42" fill="#ff4500"/>
<rect x="567" y="176" width="1" height="4" fill="#ff0000"/>
<rect x="566" y="176" width="3" height="2" fill="#ff0000"/>
<rect x="571" y="166" width="1" height="19" fill="#ff0000"/>
<rect x="570" y="167" width="3" height="13" fill="#ff0000"/>
<rect x="571" y="168" width="1" height="11" fill="#ff4500"/>
<rect x="575" y="166" width="1" height="17" fill="#22c822"/>
<rect x="574" y="167" width="3" height="12" fill="#22c822"/>
<rect x="575" y="168" width="1" height="10" fill="#32cd32"/>
<rect x="579" y="168" width="1" height="18" fill="#22c822"/>
<rect x="578" y="178" width="3" height="6" fill="#22c822"/>
<rect x="579" y="179" width="1" height="4" fill="#32cd32"/>
<rect x="583" y="167" width="1" height="23" fill="#ff0000"/>
<rect x="582" y="173" width="3" height="10" fill="#ff0000"/>
<rect x="583" y="174" width="1" height="8" fill="#ff4500"/>
<rect x="587" y="161" width="1" height="42" fill="#22c822"/>
<rect x="586" y="173" width="3" height="27" fill="#22c822"/>
<rect x="587" y="174" width="1" height="25" fill="#32cd32"/>
<rect x="591" y="196" width="1" height="8" fill="#ff0000"/>
<rect x="590" y="196" width="3" height="4" fill="#ff0000"/>
<rect x="591" y="197" width="1" height="2" fill="#ff4500"/>
<rect x="595" y="185" width="1" height="16" fill="#ff0000"/>
<rect x="594" y="189" width="3" height="5" fill="#ff0000"/>
<rect x="595" y="190" width="1" height="3" fill="#ff4500"/>
<rect x="599" y="189" width="1" height="21" fill="#22c822"/>
<rect x="598" y="189" width="3" height="21" fill="#22c822"/>
<rect x="599" y="190" width="1" height="19" fill="#32cd32"/>
<rect x="603" y="190" width="1" height="20" fill="#ff0000"/>
<rect x="602" y="192" width="3" height="18" fill="#ff0000"/>
<rect x="603" y="193" width="1" height="16" fill="#ff4500"/>
<rect x="607" y="190" width="1" height="78" fill="#22c822"/>
<rect x="606" y="192" width="3" height="75" fill="#22c822"/>
<rect x="607" y="193" width="1" height="73" fill="#32cd32"/>
<rect x="611" y="263" width="1" height="39" fill="#22c822"/>
<rect x="610" y="266" width="3" height="27" fill="#22c822"/>
<rect x="611" y="267" width="1" height="25" fill="#32cd32"/>
<rect x="615" y="286" width="1" height="10" fill="#ff0000"/>
<rect x="614" y="292" width="3" height="1" fill="#ff0000"/>
<rect x="619" y="274" width="1" height="29" fill="#ff0000"/>
<rect x="618" y="279" width="3" height="13" fill="#ff0000"/>
<rect x="619" y="280" width="1" height="11" fill="#ff4500"/>
<rect x="623" y="270" width="1" height="25" fill="#22c822"/>
<rect x="622" y="278" width="3" height="2" fill="#22c822"/>
<rect x="627" y="245" width="1" height="35" fill="#ff0000"/>
<rect x="626" y="250" width="3" height="30" fill="#ff0000"/>
<rect x="627" y="251" width="1" height="28" fill="#ff4500"/>
<rect x="631" y="248" width="1" height="14" fill="#22c822"/>
<rect x="630" y="250" width="3" height="8" fill="#22c822"/>
<rect x="631" y="251" width="1" height="6" fill="#32cd32"/>
<rect x="635" y="236" width="1" height="22" fill="#ff0000"/>
<rect x="634" y="247" width="3" height="10" fill="#ff0000"/>
<rect x="635" y="248" width="1" height="8" fill="#ff4500"/>
<rect x="639" y="246" width="1" height="7" fill="#22c822"/>
<rect x="638" y="247" width="3" height="4" fill="#22c822"/>
<rect x="639" y="248" width="1" height="2" fill="#32cd32"/>
<rect x="643" y="244" width="1" height="23" fill="#22c822"/>
<rect x="642" y="250" width="3" height="8" fill="#22c822"/>
<rect x="643" y="251" width="1" height="6" fill="#32cd32"/>
<rect x="647" y="256" width="1" height="33" fill="#22c822"/>
<rect x="646" y="257" width="3" height="28" fill="#22c822"/>
<rect x="647" y="258" width="1" height="26" fill="#32cd32"/>
<rect x="651" y="279" width="1" height="17" fill="#22c822"/>
<rect x="650" y="284" width="3" height="11" fill="#22c822"/>
<rect x="651" y="285" width="1" height="9" fill="#32cd32"/>
<rect x="655" y="288" width="1" height="22" fill="#22c822"/>
<rect x="654" y="294" width="3" height="12" fill="#22c822"/>
<rect x="655" y="295" width="1" height="10" fill="#32cd32"/>
<rect x="659" y="291" width="1" height="28" fill="#ff0000"/>
<rect x="658" y="293" width="3" height="13" fill="#ff0000"/>
<rect x="659" y="294" width="1" height="11" fill="#ff4500"/>
<rect x="663" y="275" width="1" height="21" fill="#ff0000"/>
<rect x="662" y="278" width="3" height="16" fill="#ff0000"/>
<rect x="663" y="279" width="1" height="14" fill="#ff4500"/>
<rect x="667" y="275" width="1" height="13" fill="#ff0000"/>
<rect x="666" y="276" width="3" height="7" fill="#ff0000"/>
<rect x="667" y="277" width="1" height="5" fill="#ff4500"/>
<rect x="671" y="245" width="1" height="54" fill="#22c822"/>
<rect x="670" y="277" width="3" height="17" fill="#22c822"/>
<rect x="671" y="278" width="1" height="15" fill="#32cd32"/>
<rect x="675" y="277" width="1" height="33" fill="#22c822"/>
<rect x="674" y="293" width="3" height="7" fill="#22c822"/>
<rect x="675" y="294" width="1" height="5" fill="#32cd32"/>
<rect x="679" y="288" width="1" height="44" fill="#22c822"/>
<rect x="678" y="299" width="3" height="23" fill="#22c822"/>
<rect x="679" y="300" width="1" height="21" fill="#32cd32"/>
<rect x="683" y="297" width="1" height="38" fill="#ff0000"/>
<rect x="682" y="302" width="3" height="21" fill="#ff0000"/>
<rect x="683" y="303" width="1" height="19" fill="#ff4500"/>
<rect x="687" y="296" width="1" height="7" fill="#ff0000"/>
<rect x="686" y="296" width="3" height="7" fill="#ff0000"/>
<rect x="687" y="297" width="1" height="5" fill="#ff4500"/>
<rect x="691" y="293" width="1" height="24" fill="#ff0000"/>
<rect x="690" y="296" width="3" height="2" fill="#ff0000"/>
<rect x="695" y="290" width="1" height="37" fill="#22c822"/>
<rect x="694" y="297" width="3" height="9" fill="#22c822"/>
<rect x="695" y="298" width="1" height="7" fill="#32cd32"/>
<rect x="699" y="298" width="1" height="26" fill="#22c822"/>
<rect x="698" y="305" width="3" height="3" fill="#22c822"/>
<rect x="699" y="306" width="1" height="1" fill="#32cd32"/>
<rect x="703" y="298" width="1" height="26" fill="#22c822"/>
<rect x="702" y="307" width="3" height="16" fill="#22c822"/>
<rect x="703" y="308" width="1" height="14" fill="#32cd32"/>
<rect x="707" y="319" width="1" height="21" fill="#22c822"/>
<rect x="706" y="322" width="3" height="14" fill="#22c822"/>
<rect x="707" y="323" width="1" height="12" fill="#32cd32"/>
<rect x="711" y="331" width="1" height="9" fill="#22c822"/>
<rect x="710" y="334" width="3" height="4" fill="#22c822"/>
<rect x="711" y="335" width="1" height="2" fill="#32cd32"/>
<rect x="715" y="341" width="1" height="33" fill="#22c822"/>
<rect x="714" y="342" width="3" height="24" fill="#22c822"/>
<rect x="715" y="343" width="1" height="22" fill="#32cd32"/>
<rect x="719" y="359" width="1" height="28" fill="#22c822"/>
<rect x="718" y="366" width="3" height="9" fill="#22c822"/>
<rect x="719" y="367" width="1" height="7" fill="#32cd32"/>
<rect x="723" y="358" width="1" height="34" fill="#ff0000"/>
<rect x="722" y="360" width="3" height="15" fill="#ff0000"/>
<rect x="723" y="361" width="1" height="13" fill="#ff4500"/>
<rect x="727" y="340" width="1" height="27" fill="#ff0000"/>
<rect x="726" y="356" width="3" height="5" fill="#ff0000"/>
<rect x="727" y="357" width="1" height="3" fill="#ff4500"/>
<rect x="731" y="344" width="1" height="16" fill="#22c822"/>
<rect x="730" y="356" width="3" height="1" fill="#22c822"/>
<rect x="735" y="352" width="1" height="5" fill="#ff0000"/>
<rect x="734" y="356" width="3" height="1" fill="#ff0000"/>
<rect x="739" y="343" width="1" height="29" fill="#ff0000"/>
<rect x="738" y="345" width="3" height="10" fill="#ff0000"/>
<rect x="739" y="346" width="1" height="8" fill="#ff4500"/>
<rect x="743" y="344" width="1" height="25" fill="#22c822"/>
<rect x="742" y="346" width="3" height="9" fill="#22c822"/>
<rect x="743" y="347" width="1" height="7" fill="#32cd32"/>
<rect x="747" y="351" width="1" height="25" fill="#22c822"/>
<rect x="746" y="354" width="3" height="11" fill="#22c822"/>
<rect x="747" y="355" width="1" height="9" fill="#32cd32"/>
<rect x="751" y="332" width="1" height="47" fill="#ff0000"/>
<rect x="750" y="339" width="3" height="25" fill="#ff0000"/>
<rect x="751" y="340" width="1" height="23" fill="#ff4500"/>
<rect x="755" y="336" width="1" height="30" fill="#22c822"/>
<rect x="754" y="337" width="3" height="26" fill="#22c822"/>
<rect x="755" y="338" width="1" height="24" fill="#32cd32"/>
<rect x="759" y="362" width="1" height="10" fill="#22c822"/>
<rect x="758" y="362" width="3" height="9" fill="#22c822"/>
<rect x="759" y="363" width="1" height="7" fill="#32cd32"/>
<rect x="763" y="347" width="1" height="26" fill="#ff0000"/>
<rect x="762" y="356" width="3" height="10" fill="#ff0000"/>
<rect x="763" y="357" width="1" height="8" fill="#ff4500"/>
<rect x="767" y="335" width="1" height="26" fill="#ff0000"/>
<rect x="766" y="346" width="3" height="12" fill="#ff0000"/>
<rect x="767" y="347" width="1" height="10" fill="#ff4500"/>
<rect x="771" y="326" width="1" height="28" fill="#22c822"/>
<rect x="770" y="346" width="3" height="4" fill="#22c822"/>
<rect x="771" y="347" width="1" height="2" fill="#32cd32"/>
<rect x="775" y="331" width="1" height="20" fill="#ff0000"/>
<rect x="774" y="335" width="3" height="15" fill="#ff0000"/>
<rect x="775" y="336" width="1" height="13" fill="#ff4500"/>
<rect x="779" y="334" width="1" height="31" fill="#22c822"/>
<rect x="778" y="335" width="3" height="26" fill="#22c822"/>
<rect x="779" y="336" width="1" height="24" fill="#32cd32"/>
<rect x="783" y="358" width="1" height="6" fill="#22c822"/>
<rect x="782" y="360" width="3" height="3" fill="#22c822"/>
<rect x="783" y="361" width="1" height="1" fill="#32cd32"/>
<rect x="787" y="355" width="1" height="19" fill="#ff0000"/>
<rect x="786" y="367" width="3" height="1" fill="#ff0000"/>
<rect x="791" y="360" width="1" height="19" fill="#ff0000"/>
<rect x="790" y="365" width="3" height="3" fill="#ff0000"/>
<rect x="791" y="366" width="1" height="1" fill="#ff4500"/>
<rect x="795" y="345" width="1" height="31" fill="#ff0000"/>
<rect x="794" y="351" width="3" height="15" fill="#ff0000"/>
<rect x="795" y="352" width="1" height="13" fill="#ff4500"/>
<rect x="799" y="344" width="1" height="26" fill="#22c822"/>
<rect x="798" y="352" width="3" height="14" fill="#22c822"/>
<rect x="799" y="353" width="1" height="12" fill="#32cd32"/>
<rect x="803" y="348" width="1" height="24" fill="#ff0000"/>
<rect x="802" y="350" width="3" height="16" fill="#ff0000"/>
<rect x="803" y="351" width="1" height="14" fill="#ff4500"/>
<rect x="807" y="348" width="1" height="6" fill="#22c822"/>
<rect x="806" y="350" width="3" height="2" fill="#22c822"/>
<rect x="811" y="352" width="1" height="26" fill="#22c822"/>
<rect x="810" y="353" width="3" height="16" fill="#22c822"/>
<rect x="811" y="354" width="1" height="14" fill="#32cd32"/>
<rect x="815" y="367" width="1" height="42" fill="#22c822"/>
<rect x="814" y="368" width="3" height="41" fill="#22c822"/>
<rect x="815" y="369" width="1" height="39" fill="#32cd32"/>
<rect x="819" y="400" width="1" height="20" fill="#22c822"/>
<rect x="818" y="408" width="3" height="10" fill="#22c822"/>
<rect x="819" y="409" width="1" height="8" fill="#32cd32"/>
<rect x="823" y="403" width="1" height="57" fill="#22c822"/>
<rect x="822" y="417" width="3" height="32" fill="#22c822"/>
<rect x="823" y="418" width="1" height="30" fill="#32cd32"/>
<rect x="827" y="447" width="1" height="32" fill="#22c822"/>
<rect x="826" y="448" width="3" height="18" fill="#22c822"/>
<rect x="827" y="449" width="1" height="16" fill="#32cd32"/>
<rect x="831" y="460" width="1" height="7" fill="#ff0000"/>
<rect x="830" y="463" width="3" height="3" fill="#ff0000"/>
<rect x="831" y="464" width="1" height="1" fill="#ff4500"/>
<rect x="835" y="429" width="1" height="35" fill="#ff0000"/>
<rect x="834" y="430" width="3" height="33" fill="#ff0000"/>
<rect x="835" y="431" width="1" height="31" fill="#ff4500"/>
<rect x="839" y="400" width="1" height="34" fill="#ff0000"/>
<rect x="838" y="408" width="3" height="23" fill="#ff0000"/>
<rect x="839" y="409" width="1" height="21" fill="#ff4500"/>
<rect x="843" y="401" width="1" height="16" fill="#ff0000"/>
<rect x="842" y="403" width="3" height="5" fill="#ff0000"/>
<rect x="843" y="404" width="1" height="3" fill="#ff4500"/>
<rect x="847" y="395" width="1" height="20" fill="#22c822"/>
<rect x="846" y="402" width="3" height="9" fill="#22c822"/>
<rect x="847" y="403" width="1" height="7" fill="#32cd32"/>
<rect x="851" y="382" width="1" height="42" fill="#ff0000"/>
<rect x="850" y="382" width="3" height="29" fill="#ff0000"/>
<rect x="851" y="383" width="1" height="27" fill="#ff4500"/>
<rect x="855" y="378" width="1" height="6" fill="#ff0000"/>
<rect x="854" y="379" width="3" height="5" fill="#ff0000"/>
<rect x="855" y="380" width="1" height="3" fill="#ff4500"/>
<rect x="859" y="377" width="1" height="17" fill="#22c822"/>
<rect x="858" y="381" width="3" height="10" fill="#22c822"/>
<rect x="859" y="382" width="1" height="8" fill="#32cd32"/>
<rect x="863" y="366" width="1" height="28" fill="#ff0000"/>
<rect x="862" y="383" width="3" height="7" fill="#ff0000"/>
<rect x="863" y="384" width="1" height="5" fill="#ff4500"/>
<rect x="867" y="351" width="1" height="33" fill="#ff0000"/>
<rect x="866" y="354" width="3" height="30" fill="#ff0000"/>
<rect x="867" y="355" width="1" height="28" fill="#ff4500"/>
<rect x="871" y="334" width="1" height="27" fill="#ff0000"/>
<rect x="870" y="339" width="3" height="16" fill="#ff0000"/>
<rect x="871" y="340" width="1" height="14" fill="#ff4500"/>
<rect x="875" y="302" width="1" height="40" fill="#ff0000"/>
<rect x="874" y="319" width="3" height="21" fill="#ff0000"/>
<rect x="875" y="320" width="1" height="19" fill="#ff4500"/>
<rect x="879" y="308" width="1" height="13" fill="#ff0000"/>
<rect x="878" y="311" width="3" height="9" fill="#ff0000"/>
<rect x="879" y="312" width="1" height="7" fill="#ff4500"/>
<rect x="883" y="314" width="1" height="13" fill="#22c822"/>
<rect x="882" y="315" width="3" height="8" fill="#22c822"/>
<rect x="883" y="316" width="1" height="6" fill="#32cd32"/>
<rect x="887" y="307" width="1" height="45" fill="#22c822"/>
<rect x="886" y="322" width="3" height="21" fill="#22c822"/>
<rect x="887" y="323" width="1" height="19" fill="#32cd32"/>
<rect x="891" y="337" width="1" height="27" fill="#22c822"/>
<rect x="890" y="342" width="3" height="13" fill="#22c822"/>
<rect x="891" y="343" width="1" height="11" fill="#32cd32"/>
<rect x="895" y="341" width="1" height="24" fill="#ff0000"/>
<rect x="894" y="348" width="3" height="7" fill="#ff0000"/>
<rect x="895" y="349" width="1" height="5" fill="#ff4500"/>
<rect x="899" y="334" width="1" height="25" fill="#22c822"/>
<rect x="898" y="348" width="3" height="8" fill="#22c822"/>
<rect x="899" y="349" width="1" height="6" fill="#32cd32"/>
<rect x="903" y="351" width="1" height="7" fill="#22c822"/>
<rect x="902" y="354" width="3" height="4" fill="#22c822"/>
<rect x="903" y="355" width="1" height="2" fill="#32cd32"/>
<rect x="907" y="351" width="1" height="19" fill="#ff0000"/>
<rect x="906" y="352" width="3" height="2" fill="#ff0000"/>
<rect x="911" y="351" width="1" height="25" fill="#22c822"/>
<rect x="910" y="353" width="3" height="18" fill="#22c822"/>
<rect x="911" y="354" width="1" height="16" fill="#32cd32"/>
<rect x="915" y="368" width="1" height="18" fill="#22c822"/>
<rect x="914" y="370" width="3" height="6" fill="#22c822"/>
<rect x="915" y="371" width="1" height="4" fill="#32cd32"/>
<rect x="919" y="364" width="1" height="35" fill="#22c822"/>
<rect x="918" y="375" width="3" height="18" fill="#22c822"/>
<rect x="919" y="376" width="1" height="16" fill="#32cd32"/>
<rect x="923" y="385" width="1" height="11" fill="#ff0000"/>
<rect x="922" y="388" width="3" height="5" fill="#ff0000"/>
<rect x="923" y="389" width="1" height="3" fill="#ff4500"/>
</g>
<g class="c">
<rect x="1166" y="57" width="2" height="1" fill="#000"/>
<rect x="1166" y="90" width="2" height="1" fill="#000"/>
<rect x="1166" y="123" width="2" height="1" fill="#000"/>
<rect x="1166" y="156" width="2" height="1" fill="#000"/>
<rect x="1166" y="189" width="2" height="1" fill="#000"/>
<rect x="1166" y="222" width="2" height="1" fill="#000"/>
<rect x="1166" y="255" width="2" height="1" fill="#000"/>
<rect x="1166" y="288" width="2" height="1" fill="#000"/>
<rect x="1166" y="321" width="2" height="1" fill="#000"/>
<rect x="1166" y="354" width="2" height="1" fill="#000"/>
<rect x="1166" y="387" width="2" height="1" fill="#000"/>
<rect x="1166" y="420" width="2" height="1" fill="#000"/>
<rect x="1166" y="453" width="2" height="1" fill="#000"/>
</g>
<text x="1171" y="61.3" font-size="9.33" fill="#000" font-family="DejaVu Sans Condensed, Liberation Sans, sans-serif" textLength="33" lengthAdjust="spacingAndGlyphs" stroke="#000" stroke-width="0.14">0.79960</text>
<text x="1171" y="94.3" font-size="9.33" fill="#000" font-family="DejaVu Sans Condensed, Liberation Sans, sans-serif" textLength="33" lengthAdjust="spacingAndGlyphs" stroke="#000" stroke-width="0.14">0.79260</text>
<text x="1171" y="127.3" font-size="9.33" fill="#000" font-family="DejaVu Sans Condensed, Liberation Sans, sans-serif" textLength="33" lengthAdjust="spacingAndGlyphs" stroke="#000" stroke-width="0.14">0.78560</text>
<text x="1171" y="160.3" font-size="9.33" fill="#000" font-family="DejaVu Sans Condensed, Liberation Sans, sans-serif" textLength="33" lengthAdjust="spacingAndGlyphs" stroke="#000" stroke-width="0.14">0.77860</text>
<text x="1171" y="193.3" font-size="9.33" fill="#000" font-family="DejaVu Sans Condensed, Liberation Sans, sans-serif" textLength="33" lengthAdjust="spacingAndGlyphs" stroke="#000" stroke-width="0.14">0.77160</text>
<text x="1171" y="226.3" font-size="9.33" fill="#000" font-family="DejaVu Sans Condensed, Liberation Sans, sans-serif" textLength="33" lengthAdjust="spacingAndGlyphs" stroke="#000" stroke-width="0.14">0.76460</text>
<text x="1171" y="259.3" font-size="9.33" fill="#000" font-family="DejaVu Sans Condensed, Liberation Sans, sans-serif" textLength="33" lengthAdjust="spacingAndGlyphs" stroke="#000" stroke-width="0.14">0.75760</text>
<text x="1171" y="292.3" font-size="9.33" fill="#000" font-family="DejaVu Sans Condensed, Liberation Sans, sans-serif" textLength="33" lengthAdjust="spacingAndGlyphs" stroke="#000" stroke-width="0.14">0.75060</text>
<text x="1171" y="325.3" font-size="9.33" fill="#000" font-family="DejaVu Sans Condensed, Liberation Sans, sans-serif" textLength="33" lengthAdjust="spacingAndGlyphs" stroke="#000" stroke-width="0.14">0.74360</text>
<text x="1171" y="358.3" font-size="9.33" fill="#000" font-family="DejaVu Sans Condensed, Liberation Sans, sans-serif" textLength="33" lengthAdjust="spacingAndGlyphs" stroke="#000" stroke-width="0.14">0.73660</text>
<text x="1171" y="391.3" font-size="9.33" fill="#000" font-family="DejaVu Sans Condensed, Liberation Sans, sans-serif" textLength="33" lengthAdjust="spacingAndGlyphs" stroke="#000" stroke-width="0.14">0.72980</text>
<text x="1171" y="424.3" font-size="9.33" fill="#000" font-family="DejaVu Sans Condensed, Liberation Sans, sans-serif" textLength="33" lengthAdjust="spacingAndGlyphs" stroke="#000" stroke-width="0.14">0.72280</text>
<text x="1171" y="457.3" font-size="9.33" fill="#000" font-family="DejaVu Sans Condensed, Liberation Sans, sans-serif" textLength="33" lengthAdjust="spacingAndGlyphs" stroke="#000" stroke-width="0.14">0.71580</text>
<g class="c">
</g>
<rect class="c" x="1167" y="181" width="41" height="11" fill="#ff0000"/>
<text x="1171" y="189.5" font-size="9.33" fill="#fff" font-family="DejaVu Sans Condensed, Liberation Sans, sans-serif" textLength="33" lengthAdjust="spacingAndGlyphs">0.77200</text>
<rect class="c" x="1167" y="251" width="41" height="11" fill="#ff0000"/>
<text x="1171" y="259.5" font-size="9.33" fill="#fff" font-family="DejaVu Sans Condensed, Liberation Sans, sans-serif" textLength="33" lengthAdjust="spacingAndGlyphs">0.75716</text>
<rect class="c" x="1167" y="332" width="41" height="11" fill="#00ff00"/>
<text x="1171" y="340.5" font-size="9.33" fill="#fff" font-family="DejaVu Sans Condensed, Liberation Sans, sans-serif" textLength="33" lengthAdjust="spacingAndGlyphs">0.74007</text>
<rect class="c" x="1167" y="383" width="41" height="11" fill="#000000"/>
<text x="1171" y="391.5" font-size="9.33" fill="#fff" font-family="DejaVu Sans Condensed, Liberation Sans, sans-serif" textLength="33" lengthAdjust="spacingAndGlyphs">0.72941</text>
<rect class="c" x="1167" y="407" width="41" height="11" fill="#0000ff"/>
<text x="1171" y="415.5" font-size="9.33" fill="#fff" font-family="DejaVu Sans Condensed, Liberation Sans, sans-serif" textLength="33" lengthAdjust="spacingAndGlyphs">0.72411</text>
<rect class="c" x="1167" y="478" width="41" height="11" fill="#0000ff"/>
<text x="1171" y="486.5" font-size="9.33" fill="#fff" font-family="DejaVu Sans Condensed, Liberation Sans, sans-serif" textLength="33" lengthAdjust="spacingAndGlyphs">0.70926</text>
<rect class="c" x="1167" y="482" width="41" height="11" fill="#ff0000"/>
<text x="1171" y="490.5" font-size="9.33" fill="#fff" font-family="DejaVu Sans Condensed, Liberation Sans, sans-serif" textLength="33" lengthAdjust="spacingAndGlyphs">0.70820</text>
<g class="c">
<rect x="2" y="501" width="3" height="37" fill="#c0c0c0"/>
<rect x="6" y="503" width="3" height="35" fill="#c0c0c0"/>
<rect x="10" y="504" width="3" height="34" fill="#c0c0c0"/>
<rect x="14" y="505" width="3" height="33" fill="#c0c0c0"/>
<rect x="18" y="506" width="3" height="32" fill="#c0c0c0"/>
<rect x="22" y="508" width="3" height="30" fill="#c0c0c0"/>
<rect x="26" y="508" width="3" height="30" fill="#c0c0c0"/>
<rect x="30" y="505" width="3" height="33" fill="#c0c0c0"/>
<rect x="34" y="503" width="3" height="35" fill="#c0c0c0"/>
<rect x="38" y="501" width="3" height="37" fill="#c0c0c0"/>
<rect x="42" y="502" width="3" height="36" fill="#c0c0c0"/>
<rect x="46" y="501" width="3" height="37" fill="#c0c0c0"/>
<rect x="50" y="499" width="3" height="39" fill="#c0c0c0"/>
<rect x="54" y="498" width="3" height="40" fill="#c0c0c0"/>
<rect x="58" y="497" width="3" height="41" fill="#c0c0c0"/>
<rect x="62" y="497" width="3" height="41" fill="#c0c0c0"/>
<rect x="66" y="499" width="3" height="39" fill="#c0c0c0"/>
<rect x="70" y="500" width="3" height="38" fill="#c0c0c0"/>
<rect x="74" y="503" width="3" height="35" fill="#c0c0c0"/>
<rect x="78" y="504" width="3" height="34" fill="#c0c0c0"/>
<rect x="82" y="507" width="3" height="31" fill="#c0c0c0"/>
<rect x="86" y="510" width="3" height="28" fill="#c0c0c0"/>
<rect x="90" y="513" width="3" height="25" fill="#c0c0c0"/>
<rect x="94" y="515" width="3" height="23" fill="#c0c0c0"/>
<rect x="98" y="515" width="3" height="23" fill="#c0c0c0"/>
<rect x="102" y="515" width="3" height="23" fill="#c0c0c0"/>
<rect x="106" y="517" width="3" height="21" fill="#c0c0c0"/>
<rect x="110" y="519" width="3" height="19" fill="#c0c0c0"/>
<rect x="114" y="521" width="3" height="17" fill="#c0c0c0"/>
<rect x="118" y="521" width="3" height="17" fill="#c0c0c0"/>
<rect x="122" y="524" width="3" height="14" fill="#c0c0c0"/>
<rect x="126" y="527" width="3" height="11" fill="#c0c0c0"/>
<rect x="130" y="529" width="3" height="9" fill="#c0c0c0"/>
<rect x="134" y="533" width="3" height="5" fill="#c0c0c0"/>
<rect x="138" y="536" width="3" height="2" fill="#c0c0c0"/>
<rect x="142" y="538" width="3" height="4" fill="#c0c0c0"/>
<rect x="146" y="538" width="3" height="6" fill="#c0c0c0"/>
<rect x="150" y="538" width="3" height="8" fill="#c0c0c0"/>
<rect x="154" y="538" width="3" height="7" fill="#c0c0c0"/>
<rect x="158" y="538" width="3" height="6" fill="#c0c0c0"/>
<rect x="162" y="538" width="3" height="2" fill="#c0c0c0"/>
<rect x="166" y="537" width="3" height="1" fill="#c0c0c0"/>
<rect x="170" y="535" width="3" height="3" fill="#c0c0c0"/>
<rect x="174" y="532" width="3" height="6" fill="#c0c0c0"/>
<rect x="178" y="530" width="3" height="8" fill="#c0c0c0"/>
<rect x="182" y="529" width="3" height="9" fill="#c0c0c0"/>
<rect x="186" y="526" width="3" height="12" fill="#c0c0c0"/>
<rect x="190" y="525" width="3" height="13" fill="#c0c0c0"/>
<rect x="194" y="526" width="3" height="12" fill="#c0c0c0"/>
<rect x="198" y="526" width="3" height="12" fill="#c0c0c0"/>
<rect x="202" y="522" width="3" height="16" fill="#c0c0c0"/>
<rect x="206" y="518" width="3" height="20" fill="#c0c0c0"/>
<rect x="210" y="514" width="3" height="24" fill="#c0c0c0"/>
<rect x="214" y="511" width="3" height="27" fill="#c0c0c0"/>
<rect x="218" y="509" width="3" height="29" fill="#c0c0c0"/>
<rect x="222" y="505" width="3" height="33" fill="#c0c0c0"/>
<rect x="226" y="512" width="3" height="26" fill="#c0c0c0"/>
<rect x="230" y="519" width="3" height="19" fill="#c0c0c0"/>
<rect x="234" y="522" width="3" height="16" fill="#c0c0c0"/>
<rect x="238" y="523" width="3" height="15" fill="#c0c0c0"/>
<rect x="242" y="524" width="3" height="14" fill="#c0c0c0"/>
<rect x="246" y="526" width="3" height="12" fill="#c0c0c0"/>
<rect x="250" y="532" width="3" height="6" fill="#c0c0c0"/>
<rect x="254" y="537" width="3" height="1" fill="#c0c0c0"/>
<rect x="258" y="538" width="3" height="3" fill="#c0c0c0"/>
<rect x="262" y="538" width="3" height="6" fill="#c0c0c0"/>
<rect x="266" y="538" width="3" height="7" fill="#c0c0c0"/>
<rect x="270" y="538" width="3" height="6" fill="#c0c0c0"/>
<rect x="274" y="538" width="3" height="4" fill="#c0c0c0"/>
<rect x="278" y="538" width="3" height="3" fill="#c0c0c0"/>
<rect x="282" y="538" width="3" height="3" fill="#c0c0c0"/>
<rect x="286" y="538" width="3" height="4" fill="#c0c0c0"/>
<rect x="290" y="538" width="3" height="6" fill="#c0c0c0"/>
<rect x="294" y="538" width="3" height="2" fill="#c0c0c0"/>
<rect x="298" y="538" width="3" height="2" fill="#c0c0c0"/>
<rect x="302" y="538" width="3" height="2" fill="#c0c0c0"/>
<rect x="306" y="538" width="3" height="3" fill="#c0c0c0"/>
<rect x="310" y="538" width="3" height="4" fill="#c0c0c0"/>
<rect x="314" y="538" width="3" height="10" fill="#c0c0c0"/>
<rect x="318" y="538" width="3" height="15" fill="#c0c0c0"/>
<rect x="322" y="538" width="3" height="17" fill="#c0c0c0"/>
<rect x="326" y="538" width="3" height="18" fill="#c0c0c0"/>
<rect x="330" y="538" width="3" height="19" fill="#c0c0c0"/>
<rect x="334" y="538" width="3" height="20" fill="#c0c0c0"/>
<rect x="338" y="538" width="3" height="20" fill="#c0c0c0"/>
<rect x="342" y="538" width="3" height="21" fill="#c0c0c0"/>
<rect x="346" y="538" width="3" height="21" fill="#c0c0c0"/>
<rect x="350" y="538" width="3" height="21" fill="#c0c0c0"/>
<rect x="354" y="538" width="3" height="19" fill="#c0c0c0"/>
<rect x="358" y="538" width="3" height="17" fill="#c0c0c0"/>
<rect x="362" y="538" width="3" height="16" fill="#c0c0c0"/>
<rect x="366" y="538" width="3" height="15" fill="#c0c0c0"/>
<rect x="370" y="538" width="3" height="14" fill="#c0c0c0"/>
<rect x="374" y="538" width="3" height="14" fill="#c0c0c0"/>
<rect x="378" y="538" width="3" height="14" fill="#c0c0c0"/>
<rect x="382" y="538" width="3" height="13" fill="#c0c0c0"/>
<rect x="386" y="538" width="3" height="8" fill="#c0c0c0"/>
<rect x="390" y="538" width="3" height="4" fill="#c0c0c0"/>
<rect x="394" y="538" width="3" height="1" fill="#c0c0c0"/>
<rect x="398" y="535" width="3" height="3" fill="#c0c0c0"/>
<rect x="402" y="532" width="3" height="6" fill="#c0c0c0"/>
<rect x="406" y="531" width="3" height="7" fill="#c0c0c0"/>
<rect x="410" y="529" width="3" height="9" fill="#c0c0c0"/>
<rect x="414" y="529" width="3" height="9" fill="#c0c0c0"/>
<rect x="418" y="529" width="3" height="9" fill="#c0c0c0"/>
<rect x="422" y="528" width="3" height="10" fill="#c0c0c0"/>
<rect x="426" y="525" width="3" height="13" fill="#c0c0c0"/>
<rect x="430" y="525" width="3" height="13" fill="#c0c0c0"/>
<rect x="434" y="525" width="3" height="13" fill="#c0c0c0"/>
<rect x="438" y="525" width="3" height="13" fill="#c0c0c0"/>
<rect x="442" y="528" width="3" height="10" fill="#c0c0c0"/>
<rect x="446" y="530" width="3" height="8" fill="#c0c0c0"/>
<rect x="450" y="530" width="3" height="8" fill="#c0c0c0"/>
<rect x="454" y="532" width="3" height="6" fill="#c0c0c0"/>
<rect x="458" y="532" width="3" height="6" fill="#c0c0c0"/>
<rect x="462" y="531" width="3" height="7" fill="#c0c0c0"/>
<rect x="466" y="527" width="3" height="11" fill="#c0c0c0"/>
<rect x="470" y="524" width="3" height="14" fill="#c0c0c0"/>
<rect x="474" y="521" width="3" height="17" fill="#c0c0c0"/>
<rect x="478" y="520" width="3" height="18" fill="#c0c0c0"/>
<rect x="482" y="524" width="3" height="14" fill="#c0c0c0"/>
<rect x="486" y="527" width="3" height="11" fill="#c0c0c0"/>
<rect x="490" y="528" width="3" height="10" fill="#c0c0c0"/>
<rect x="494" y="529" width="3" height="9" fill="#c0c0c0"/>
<rect x="498" y="530" width="3" height="8" fill="#c0c0c0"/>
<rect x="502" y="530" width="3" height="8" fill="#c0c0c0"/>
<rect x="506" y="532" width="3" height="6" fill="#c0c0c0"/>
<rect x="510" y="532" width="3" height="6" fill="#c0c0c0"/>
<rect x="514" y="534" width="3" height="4" fill="#c0c0c0"/>
<rect x="518" y="536" width="3" height="2" fill="#c0c0c0"/>
<rect x="522" y="538" width="3" height="1" fill="#c0c0c0"/>
<rect x="526" y="538" width="3" height="1" fill="#c0c0c0"/>
<rect x="530" y="538" width="3" height="2" fill="#c0c0c0"/>
<rect x="534" y="538" width="3" height="2" fill="#c0c0c0"/>
<rect x="538" y="538" width="3" height="4" fill="#c0c0c0"/>
<rect x="542" y="538" width="3" height="5" fill="#c0c0c0"/>
<rect x="546" y="538" width="3" height="5" fill="#c0c0c0"/>
<rect x="550" y="538" width="3" height="4" fill="#c0c0c0"/>
<rect x="554" y="538" width="3" height="3" fill="#c0c0c0"/>
<rect x="558" y="538" width="3" height="7" fill="#c0c0c0"/>
<rect x="562" y="538" width="3" height="6" fill="#c0c0c0"/>
<rect x="566" y="538" width="3" height="5" fill="#c0c0c0"/>
<rect x="570" y="538" width="3" height="3" fill="#c0c0c0"/>
<rect x="574" y="538" width="3" height="3" fill="#c0c0c0"/>
<rect x="578" y="538" width="3" height="3" fill="#c0c0c0"/>
<rect x="582" y="538" width="3" height="3" fill="#c0c0c0"/>
<rect x="586" y="538" width="3" height="3" fill="#c0c0c0"/>
<rect x="590" y="538" width="3" height="5" fill="#c0c0c0"/>
<rect x="594" y="538" width="3" height="6" fill="#c0c0c0"/>
<rect x="598" y="538" width="3" height="7" fill="#c0c0c0"/>
<rect x="602" y="538" width="3" height="7" fill="#c0c0c0"/>
<rect x="606" y="538" width="3" height="14" fill="#c0c0c0"/>
<rect x="610" y="538" width="3" height="21" fill="#c0c0c0"/>
<rect x="614" y="538" width="3" height="26" fill="#c0c0c0"/>
<rect x="618" y="538" width="3" height="29" fill="#c0c0c0"/>
<rect x="622" y="538" width="3" height="30" fill="#c0c0c0"/>
<rect x="626" y="538" width="3" height="29" fill="#c0c0c0"/>
<rect x="630" y="538" width="3" height="28" fill="#c0c0c0"/>
<rect x="634" y="538" width="3" height="26" fill="#c0c0c0"/>
<rect x="638" y="538" width="3" height="25" fill="#c0c0c0"/>
<rect x="642" y="538" width="3" height="26" fill="#c0c0c0"/>
<rect x="646" y="538" width="3" height="27" fill="#c0c0c0"/>
<rect x="650" y="538" width="3" height="27" fill="#c0c0c0"/>
<rect x="654" y="538" width="3" height="29" fill="#c0c0c0"/>
<rect x="658" y="538" width="3" height="30" fill="#c0c0c0"/>
<rect x="662" y="538" width="3" height="28" fill="#c0c0c0"/>
<rect x="666" y="538" width="3" height="27" fill="#c0c0c0"/>
<rect x="670" y="538" width="3" height="27" fill="#c0c0c0"/>
<rect x="674" y="538" width="3" height="27" fill="#c0c0c0"/>
<rect x="678" y="538" width="3" height="28" fill="#c0c0c0"/>
<rect x="682" y="538" width="3" height="28" fill="#c0c0c0"/>
<rect x="686" y="538" width="3" height="27" fill="#c0c0c0"/>
<rect x="690" y="538" width="3" height="25" fill="#c0c0c0"/>
<rect x="694" y="538" width="3" height="25" fill="#c0c0c0"/>
<rect x="698" y="538" width="3" height="24" fill="#c0c0c0"/>
<rect x="702" y="538" width="3" height="25" fill="#c0c0c0"/>
<rect x="706" y="538" width="3" height="26" fill="#c0c0c0"/>
<rect x="710" y="538" width="3" height="27" fill="#c0c0c0"/>
<rect x="714" y="538" width="3" height="30" fill="#c0c0c0"/>
<rect x="718" y="538" width="3" height="33" fill="#c0c0c0"/>
<rect x="722" y="538" width="3" height="34" fill="#c0c0c0"/>
<rect x="726" y="538" width="3" height="33" fill="#c0c0c0"/>
<rect x="730" y="538" width="3" height="33" fill="#c0c0c0"/>
<rect x="734" y="538" width="3" height="32" fill="#c0c0c0"/>
<rect x="738" y="538" width="3" height="30" fill="#c0c0c0"/>
<rect x="742" y="538" width="3" height="29" fill="#c0c0c0"/>
<rect x="746" y="538" width="3" height="28" fill="#c0c0c0"/>
<rect x="750" y="538" width="3" height="26" fill="#c0c0c0"/>
<rect x="754" y="538" width="3" height="25" fill="#c0c0c0"/>
<rect x="758" y="538" width="3" height="25" fill="#c0c0c0"/>
<rect x="762" y="538" width="3" height="23" fill="#c0c0c0"/>
<rect x="766" y="538" width="3" height="21" fill="#c0c0c0"/>
<rect x="770" y="538" width="3" height="19" fill="#c0c0c0"/>
<rect x="774" y="538" width="3" height="17" fill="#c0c0c0"/>
<rect x="778" y="538" width="3" height="16" fill="#c0c0c0"/>
<rect x="782" y="538" width="3" height="16" fill="#c0c0c0"/>
<rect x="786" y="538" width="3" height="16" fill="#c0c0c0"/>
<rect x="790" y="538" width="3" height="16" fill="#c0c0c0"/>
<rect x="794" y="538" width="3" height="16" fill="#c0c0c0"/>
<rect x="798" y="538" width="3" height="15" fill="#c0c0c0"/>
<rect x="802" y="538" width="3" height="14" fill="#c0c0c0"/>
<rect x="806" y="538" width="3" height="12" fill="#c0c0c0"/>
<rect x="810" y="538" width="3" height="13" fill="#c0c0c0"/>
<rect x="814" y="538" width="3" height="15" fill="#c0c0c0"/>
<rect x="818" y="538" width="3" height="20" fill="#c0c0c0"/>
<rect x="822" y="538" width="3" height="25" fill="#c0c0c0"/>
<rect x="826" y="538" width="3" height="30" fill="#c0c0c0"/>
<rect x="830" y="538" width="3" height="34" fill="#c0c0c0"/>
<rect x="834" y="538" width="3" height="33" fill="#c0c0c0"/>
<rect x="838" y="538" width="3" height="31" fill="#c0c0c0"/>
<rect x="842" y="538" width="3" height="28" fill="#c0c0c0"/>
<rect x="846" y="538" width="3" height="26" fill="#c0c0c0"/>
<rect x="850" y="538" width="3" height="22" fill="#c0c0c0"/>
<rect x="854" y="538" width="3" height="18" fill="#c0c0c0"/>
<rect x="858" y="538" width="3" height="16" fill="#c0c0c0"/>
<rect x="862" y="538" width="3" height="13" fill="#c0c0c0"/>
<rect x="866" y="538" width="3" height="9" fill="#c0c0c0"/>
<rect x="870" y="538" width="3" height="4" fill="#c0c0c0"/>
<rect x="874" y="535" width="3" height="3" fill="#c0c0c0"/>
<rect x="878" y="530" width="3" height="8" fill="#c0c0c0"/>
<rect x="882" y="527" width="3" height="11" fill="#c0c0c0"/>
<rect x="886" y="527" width="3" height="11" fill="#c0c0c0"/>
<rect x="890" y="527" width="3" height="11" fill="#c0c0c0"/>
<rect x="894" y="528" width="3" height="10" fill="#c0c0c0"/>
<rect x="898" y="529" width="3" height="9" fill="#c0c0c0"/>
<rect x="902" y="530" width="3" height="8" fill="#c0c0c0"/>
<rect x="906" y="531" width="3" height="7" fill="#c0c0c0"/>
<rect x="910" y="532" width="3" height="6" fill="#c0c0c0"/>
<rect x="914" y="535" width="3" height="3" fill="#c0c0c0"/>
<rect x="918" y="537" width="3" height="1" fill="#c0c0c0"/>
<rect x="922" y="538" width="3" height="3" fill="#c0c0c0"/>
<rect x="2" y="491" width="1" height="85" fill="#000"/>
<rect x="1166" y="493" width="2" height="1" fill="#000"/>
<rect x="1166" y="538" width="2" height="1" fill="#000"/>
<rect x="1166" y="574" width="2" height="1" fill="#000"/>
<rect x="1166" y="579" width="2" height="1" fill="#000"/>
<rect x="1166" y="663" width="2" height="1" fill="#000"/>
</g>
<path d="M645 564.5h33M690 564.5h4M719 564.5h4M763 564.5h3M847 564.5h3M853 564.5h4M288 542.5h12M313 542.5h5M404 542.5h2M564 542.5h13M590 542.5h16M885 542.5h1M68 499.5h10M162 539.5h4M176 539.5h2M280 539.5h1M410 539.5h1M545 539.5h8M888 539.5h1M151 533.5h1M189 533.5h2M269 533.5h2M419 533.5h2M525 533.5h5M897 533.5h2M127 519.5h2M217 519.5h2M250 519.5h2M642 563.5h3M694 563.5h25M766 563.5h3M844 563.5h3M857 563.5h5M3 501.5h18M57 501.5h5M82 501.5h5M678 565.5h12M723 565.5h3M759 565.5h4M850 565.5h3M739 568.5h13M338 552.5h2M384 552.5h2M621 552.5h2M807 552.5h16M874 552.5h1M283 541.5h5M300 541.5h13M406 541.5h2M557 541.5h7M577 541.5h13M886 541.5h1M144 528.5h1M200 528.5h2M262 528.5h1M433 528.5h4M458 528.5h3M474 528.5h3M509 528.5h3M635 560.5h2M775 560.5h4M837 560.5h2M864 560.5h2M34 505.5h12M94 505.5h2M114 515.5h3M227 515.5h17M166 540.5h10M281 540.5h2M408 540.5h2M553 540.5h4M887 540.5h1M142 527.5h2M202 527.5h2M261 527.5h1M437 527.5h21M477 527.5h6M506 527.5h3M145 529.5h1M197 529.5h3M263 529.5h1M429 529.5h4M461 529.5h13M512 529.5h3M905 529.5h14M30 504.5h4M46 504.5h4M92 504.5h2M352 557.5h11M629 557.5h2M787 557.5h4M830 557.5h3M869 557.5h1M637 561.5h3M772 561.5h3M839 561.5h3M863 561.5h1M322 544.5h2M401 544.5h2M609 544.5h2M883 544.5h1M345 555.5h3M371 555.5h5M626 555.5h1M795 555.5h4M827 555.5h2M871 555.5h1M324 545.5h3M399 545.5h2M611 545.5h2M882 545.5h1M157 537.5h2M181 537.5h2M276 537.5h2M413 537.5h1M540 537.5h3M891 537.5h1M633 559.5h2M779 559.5h4M835 559.5h2M866 559.5h1M640 562.5h2M769 562.5h3M842 562.5h2M862 562.5h1M631 558.5h2M783 558.5h4M833 558.5h2M867 558.5h2M154 535.5h1M185 535.5h2M272 535.5h2M416 535.5h2M534 535.5h3M894 535.5h2M139 525.5h2M206 525.5h2M258 525.5h2M496 525.5h7M138 524.5h1M208 524.5h2M257 524.5h1M106 511.5h2M141 526.5h1M204 526.5h2M260 526.5h1M483 526.5h13M503 526.5h3M340 553.5h3M381 553.5h3M623 553.5h1M803 553.5h4M823 553.5h2M873 553.5h1M149 532.5h2M191 532.5h2M267 532.5h2M421 532.5h3M521 532.5h4M899 532.5h2M146 530.5h2M195 530.5h2M264 530.5h2M427 530.5h2M515 530.5h3M903 530.5h2M919 530.5h3M99 508.5h2M318 543.5h4M403 543.5h1M606 543.5h3M884 543.5h1M148 531.5h1M193 531.5h2M266 531.5h1M424 531.5h3M518 531.5h3M901 531.5h2M922 531.5h1M348 556.5h4M363 556.5h8M627 556.5h2M791 556.5h4M829 556.5h1M870 556.5h1M335 550.5h2M389 550.5h2M618 550.5h2M876 550.5h1M110 513.5h2M152 534.5h2M187 534.5h2M271 534.5h1M418 534.5h1M530 534.5h4M896 534.5h1M101 509.5h2M333 549.5h2M391 549.5h2M617 549.5h1M877 549.5h1M103 510.5h3M337 551.5h1M386 551.5h3M620 551.5h1M875 551.5h1M62 500.5h6M78 500.5h4M21 502.5h4M53 502.5h4M87 502.5h3M343 554.5h2M376 554.5h5M624 554.5h2M799 554.5h4M825 554.5h2M872 554.5h1M120 517.5h4M221 517.5h2M246 517.5h2M97 507.5h2M329 547.5h3M395 547.5h2M615 547.5h1M879 547.5h1M726 566.5h4M755 566.5h4M112 514.5h2M25 503.5h5M50 503.5h3M90 503.5h2M332 548.5h1M393 548.5h2M616 548.5h1M878 548.5h1M129 520.5h3M215 520.5h2M252 520.5h2M136 523.5h2M210 523.5h2M256 523.5h1M117 516.5h3M223 516.5h4M244 516.5h2M108 512.5h2M132 521.5h2M214 521.5h1M254 521.5h1M155 536.5h2M183 536.5h2M274 536.5h2M414 536.5h2M537 536.5h3M892 536.5h2M124 518.5h3M219 518.5h2M248 518.5h2M730 567.5h9M752 567.5h3M327 546.5h2M397 546.5h2M613 546.5h2M880 546.5h2M134 522.5h2M212 522.5h2M255 522.5h1M159 538.5h3M178 538.5h3M278 538.5h2M411 538.5h2M543 538.5h2M889 538.5h2M96 506.5h1" fill="none" stroke="#ff0000" stroke-width="1" shape-rendering="crispEdges"/>
<text x="7.5" y="504" font-size="9.33" fill="#000" font-family="DejaVu Sans Condensed, Liberation Sans, sans-serif" textLength="150" lengthAdjust="spacingAndGlyphs" stroke="#000" stroke-width="0.14">MACD(12,26,9) -0.000221 0.001273</text>
<text x="1169" y="502" font-size="9.33" fill="#000" font-family="DejaVu Sans Condensed, Liberation Sans, sans-serif" textLength="38" lengthAdjust="spacingAndGlyphs" stroke="#000" stroke-width="0.14">0.008904</text>
<text x="1169" y="542" font-size="9.33" fill="#000" font-family="DejaVu Sans Condensed, Liberation Sans, sans-serif" textLength="18" lengthAdjust="spacingAndGlyphs" stroke="#000" stroke-width="0.14">0.00</text>
<text x="1169" y="572" font-size="9.33" fill="#000" font-family="DejaVu Sans Condensed, Liberation Sans, sans-serif" textLength="41" lengthAdjust="spacingAndGlyphs" stroke="#000" stroke-width="0.14">-0.007013</text>
<g class="c">
<path d="M3 604.5H1165M3 638.5H1165" stroke="#c0c0c0" stroke-width="1" stroke-dasharray="3 3" fill="none"/>
</g>
<path d="M605.5 627v3M556.5 622v2M836.5 630v2M293.5 620v2M849.5 623v2M480.5 614v2M226.5 615v6M457.5 621v2M749.5 630v2M867.5 614v2M558.5 627v3M441.5 618v2M202.5 609v2M225.5 609v6M80.5 610v2M604.5 625v2M353.5 626v2M585.5 622v2M794.5 625v2M81.5 612v2M224.5 604v5M250.5 626v2M562.5 622v3M813.5 632v2M384.5 620v3M490.5 620v2M850.5 621v2M247.5 620v2M812.5 630v2M645.5 630v2M748.5 632v2M561.5 625v3M626.5 629v2M292.5 622v2M835.5 632v2M201.5 611v2M607.5 633v2M482.5 619v3M557.5 624v3M383.5 623v2M82.5 614v2M386.5 614v3M234.5 621v2M682.5 631v2M3.5 608v2M223.5 600v4M121.5 617v3M355.5 623v2M321.5 630v2M249.5 624v2M625.5 631v2M834.5 634v2M560.5 628v2M833.5 636v3M814.5 634v2M865.5 617v2M248.5 622v2M385.5 617v3M811.5 628v2M606.5 630v3M481.5 616v3M200.5 613v2M6.5 612v2M810.5 626v2M233.5 623v2M449.5 619v2M624.5 633v2M586.5 624v2M832.5 639v2M453.5 620v2M65.5 610v2M311.5 625v2M227.5 621v2M64.5 608v2M454.5 622v2M154.5 622v2M777.5 624v2M63.5 606v2M458.5 619v2M750.5 628v2M294.5 618v2M203.5 607v2M153.5 624v2M465.5 612v2M610 637.5h2M615 637.5h2M710 637.5h1M723 637.5h1M818 637.5h2M84 615.5h4M95 615.5h1M106 615.5h1M117 615.5h1M119 615.5h1M165 615.5h4M194 615.5h1M199 615.5h1M413 615.5h1M417 615.5h2M438 615.5h1M463 615.5h1M887 615.5h1M609 636.5h1M617 636.5h1M707 636.5h3M724 636.5h1M815 636.5h3M140 629.5h1M145 629.5h1M314 629.5h1M322 629.5h1M325 629.5h2M334 629.5h12M350 629.5h2M629 629.5h3M644 629.5h1M662 629.5h1M667 629.5h2M685 629.5h10M753 629.5h1M762 629.5h1M785 629.5h2M789 629.5h3M837 629.5h1M34 601.5h2M49 601.5h3M218 601.5h2M8 613.5h1M67 613.5h2M98 613.5h1M104 613.5h1M172 613.5h1M180 613.5h1M192 613.5h1M387 613.5h1M393 613.5h2M399 613.5h2M405 613.5h2M408 613.5h2M411 613.5h1M421 613.5h2M431 613.5h3M479 613.5h1M868 613.5h1M885 613.5h1M141 630.5h2M144 630.5h1M315 630.5h1M559 630.5h1M661 630.5h1M669 630.5h2M683 630.5h2M695 630.5h3M754 630.5h1M761 630.5h1M787 630.5h2M83 616.5h1M88 616.5h1M93 616.5h2M107 616.5h2M116 616.5h1M120 616.5h1M163 616.5h2M195 616.5h1M197 616.5h2M414 616.5h1M416 616.5h1M439 616.5h1M462 616.5h1M866 616.5h1M888 616.5h1M134 625.5h1M230 625.5h1M232 625.5h1M262 625.5h2M354 625.5h1M362 625.5h1M365 625.5h2M369 625.5h4M381 625.5h2M537 625.5h1M545 625.5h1M589 625.5h2M596 625.5h2M600 625.5h1M766 625.5h4M772 625.5h1M796 625.5h1M802 625.5h1M809 625.5h1M841 625.5h4M848 625.5h1M916 625.5h1M123 621.5h1M155 621.5h2M270 621.5h1M273 621.5h5M280 621.5h1M286 621.5h2M299 621.5h9M443 621.5h1M448 621.5h1M505 621.5h2M508 621.5h1M513 621.5h1M549 621.5h1M555 621.5h1M563 621.5h5M575 621.5h2M580 621.5h2M584 621.5h1M856 621.5h2M860 621.5h2M909 621.5h1M138 628.5h2M146 628.5h1M150 628.5h1M251 628.5h2M257 628.5h2M313 628.5h1M323 628.5h2M327 628.5h2M332 628.5h2M346 628.5h4M352 628.5h1M627 628.5h2M632 628.5h1M642 628.5h2M663 628.5h4M752 628.5h1M763 628.5h1M780 628.5h5M792 628.5h1M799 628.5h1M838 628.5h1M919 628.5h2M7 614.5h1M96 614.5h2M105 614.5h1M118 614.5h1M169 614.5h3M193 614.5h1M395 614.5h4M407 614.5h1M412 614.5h1M419 614.5h2M434 614.5h4M464 614.5h1M886 614.5h1M136 627.5h2M147 627.5h3M151 627.5h1M253 627.5h4M259 627.5h2M312 627.5h1M329 627.5h3M539 627.5h3M633 627.5h2M639 627.5h3M751 627.5h1M764 627.5h1M779 627.5h1M793 627.5h1M798 627.5h1M800 627.5h1M839 627.5h1M918 627.5h1M921 627.5h2M318 633.5h2M647 633.5h3M657 633.5h2M675 633.5h1M681 633.5h1M701 633.5h2M737 633.5h1M743 633.5h2M758 633.5h1M650 634.5h3M656 634.5h1M676 634.5h1M680 634.5h1M703 634.5h2M736 634.5h1M745 634.5h3M114 618.5h1M161 618.5h1M237 618.5h2M240 618.5h4M296 618.5h1M450 618.5h2M459 618.5h1M492 618.5h5M890 618.5h3M897 618.5h2M608 635.5h1M618 635.5h6M653 635.5h3M677 635.5h3M705 635.5h2M725 635.5h11M12 609.5h1M19 609.5h2M26 609.5h1M74 609.5h3M79 609.5h1M426 609.5h2M468 609.5h1M475 609.5h1M875 609.5h1M881 609.5h1M31 604.5h1M38 604.5h1M45 604.5h2M61 604.5h1M207 604.5h2M160 619.5h1M236 619.5h1M244 619.5h3M297 619.5h1M452 619.5h1M491 619.5h1M497 619.5h2M502 619.5h2M510 619.5h2M551 619.5h3M570 619.5h3M864 619.5h1M899 619.5h9M9 612.5h1M23 612.5h1M66 612.5h1M69 612.5h2M99 612.5h2M103 612.5h1M173 612.5h2M178 612.5h2M181 612.5h2M191 612.5h1M388 612.5h5M401 612.5h1M404 612.5h1M410 612.5h1M423 612.5h1M430 612.5h1M478 612.5h1M869 612.5h2M884 612.5h1M5 611.5h1M10 611.5h1M22 611.5h1M24 611.5h1M71 611.5h1M101 611.5h2M175 611.5h3M183 611.5h3M190 611.5h1M402 611.5h2M424 611.5h1M429 611.5h1M466 611.5h1M471 611.5h1M477 611.5h1M871 611.5h2M883 611.5h1M89 617.5h4M109 617.5h5M115 617.5h1M162 617.5h1M196 617.5h1M239 617.5h1M295 617.5h1M415 617.5h1M440 617.5h1M460 617.5h2M889 617.5h1M893 617.5h4M124 622.5h2M129 622.5h2M269 622.5h1M281 622.5h1M284 622.5h2M288 622.5h1M308 622.5h1M356 622.5h4M444 622.5h1M447 622.5h1M483 622.5h1M489 622.5h1M507 622.5h1M514 622.5h1M530 622.5h3M548 622.5h1M577 622.5h3M775 622.5h1M858 622.5h2M910 622.5h1M33 602.5h1M36 602.5h1M48 602.5h1M52 602.5h2M57 602.5h3M216 602.5h2M122 620.5h1M157 620.5h3M235 620.5h1M271 620.5h2M278 620.5h2M298 620.5h1M442 620.5h1M499 620.5h3M504 620.5h1M509 620.5h1M512 620.5h1M550 620.5h1M554 620.5h1M568 620.5h2M573 620.5h2M582 620.5h2M851 620.5h5M862 620.5h2M908 620.5h1M317 632.5h1M320 632.5h1M646 632.5h1M659 632.5h1M673 632.5h2M699 632.5h2M738 632.5h1M741 632.5h2M756 632.5h2M759 632.5h1M126 623.5h3M131 623.5h1M228 623.5h1M268 623.5h1M282 623.5h2M289 623.5h1M309 623.5h1M360 623.5h1M445 623.5h2M456 623.5h1M484 623.5h1M488 623.5h1M515 623.5h1M521 623.5h9M533 623.5h2M547 623.5h1M593 623.5h2M602 623.5h1M774 623.5h1M776 623.5h1M804 623.5h4M911 623.5h3M132 624.5h2M229 624.5h1M264 624.5h4M290 624.5h2M310 624.5h1M361 624.5h1M367 624.5h2M455 624.5h1M485 624.5h3M516 624.5h5M535 624.5h2M546 624.5h1M591 624.5h2M595 624.5h1M601 624.5h1M603 624.5h1M773 624.5h1M795 624.5h1M803 624.5h1M808 624.5h1M914 624.5h2M4 610.5h1M11 610.5h1M21 610.5h1M25 610.5h1M72 610.5h2M186 610.5h4M425 610.5h1M428 610.5h1M467 610.5h1M469 610.5h2M472 610.5h3M476 610.5h1M873 610.5h2M882 610.5h1M32 603.5h1M37 603.5h1M47 603.5h1M54 603.5h3M60 603.5h1M209 603.5h7M13 608.5h6M27 608.5h1M77 608.5h2M876 608.5h2M880 608.5h1M143 631.5h1M316 631.5h1M660 631.5h1M671 631.5h2M698 631.5h1M739 631.5h2M755 631.5h1M760 631.5h1M30 605.5h1M39 605.5h2M44 605.5h1M62 605.5h1M205 605.5h2M135 626.5h1M152 626.5h1M231 626.5h1M261 626.5h1M363 626.5h2M373 626.5h8M538 626.5h1M542 626.5h3M587 626.5h2M598 626.5h2M635 626.5h4M765 626.5h1M770 626.5h2M778 626.5h1M797 626.5h1M801 626.5h1M840 626.5h1M845 626.5h3M917 626.5h1M715 641.5h3M719 641.5h1M824 641.5h2M831 641.5h1M612 638.5h3M711 638.5h2M722 638.5h1M820 638.5h1M220 600.5h2M713 639.5h1M721 639.5h1M821 639.5h1M29 606.5h1M41 606.5h3M204 606.5h1M827 643.5h2M714 640.5h1M720 640.5h1M822 640.5h2M718 642.5h1M826 642.5h1M829 642.5h2M222 599.5h1M28 607.5h1M878 607.5h2" fill="none" stroke="#1e90ff" stroke-width="1" shape-rendering="crispEdges"/>
<text x="7.5" y="590" font-size="9.33" fill="#000" font-family="DejaVu Sans Condensed, Liberation Sans, sans-serif" textLength="67.5" lengthAdjust="spacingAndGlyphs" stroke="#000" stroke-width="0.14">RSI(14) 42.6289</text>
<text x="1169.5" y="588" font-size="9.33" fill="#000" font-family="DejaVu Sans Condensed, Liberation Sans, sans-serif" textLength="14.5" lengthAdjust="spacingAndGlyphs" stroke="#000" stroke-width="0.14">100</text>
<text x="1169.5" y="608" font-size="9.33" fill="#000" font-family="DejaVu Sans Condensed, Liberation Sans, sans-serif" textLength="9.5" lengthAdjust="spacingAndGlyphs" stroke="#000" stroke-width="0.14">70</text>
<text x="1169.5" y="642" font-size="9.33" fill="#000" font-family="DejaVu Sans Condensed, Liberation Sans, sans-serif" textLength="9.5" lengthAdjust="spacingAndGlyphs" stroke="#000" stroke-width="0.14">30</text>
<text x="1169.5" y="661" font-size="9.33" fill="#000" font-family="DejaVu Sans Condensed, Liberation Sans, sans-serif" textLength="4.8" lengthAdjust="spacingAndGlyphs" stroke="#000" stroke-width="0.14">0</text>
<g class="c">
<rect x="3" y="665" width="1" height="3" fill="#000"/>
<rect x="67" y="665" width="1" height="3" fill="#000"/>
<rect x="131" y="665" width="1" height="3" fill="#000"/>
<rect x="195" y="665" width="1" height="3" fill="#000"/>
<rect x="259" y="665" width="1" height="3" fill="#000"/>
<rect x="323" y="665" width="1" height="3" fill="#000"/>
<rect x="387" y="665" width="1" height="3" fill="#000"/>
<rect x="451" y="665" width="1" height="3" fill="#000"/>
<rect x="515" y="665" width="1" height="3" fill="#000"/>
<rect x="579" y="665" width="1" height="3" fill="#000"/>
<rect x="643" y="665" width="1" height="3" fill="#000"/>
<rect x="707" y="665" width="1" height="3" fill="#000"/>
<rect x="771" y="665" width="1" height="3" fill="#000"/>
<rect x="835" y="665" width="1" height="3" fill="#000"/>
<rect x="899" y="665" width="1" height="3" fill="#000"/>
</g>
<text x="2.2" y="677" font-size="9.33" fill="#000" font-family="DejaVu Sans Condensed, Liberation Sans, sans-serif" textLength="51.7" lengthAdjust="spacingAndGlyphs" stroke="#000" stroke-width="0.14">21 Dec 2020</text>
<text x="66.6" y="677" font-size="9.33" fill="#000" font-family="DejaVu Sans Condensed, Liberation Sans, sans-serif" textLength="49" lengthAdjust="spacingAndGlyphs" stroke="#000" stroke-width="0.14">11 Jan 2021</text>
<text x="130.6" y="677" font-size="9.33" fill="#000" font-family="DejaVu Sans Condensed, Liberation Sans, sans-serif" textLength="49" lengthAdjust="spacingAndGlyphs" stroke="#000" stroke-width="0.14">29 Jan 2021</text>
<text x="194.5" y="677" font-size="9.33" fill="#000" font-family="DejaVu Sans Condensed, Liberation Sans, sans-serif" textLength="51" lengthAdjust="spacingAndGlyphs" stroke="#000" stroke-width="0.14">17 Feb 2021</text>
<text x="258.4" y="677" font-size="9.33" fill="#000" font-family="DejaVu Sans Condensed, Liberation Sans, sans-serif" textLength="45.5" lengthAdjust="spacingAndGlyphs" stroke="#000" stroke-width="0.14">8 Mar 2021</text>
<text x="322.2" y="677" font-size="9.33" fill="#000" font-family="DejaVu Sans Condensed, Liberation Sans, sans-serif" textLength="51.2" lengthAdjust="spacingAndGlyphs" stroke="#000" stroke-width="0.14">26 Mar 2021</text>
<text x="386.2" y="677" font-size="9.33" fill="#000" font-family="DejaVu Sans Condensed, Liberation Sans, sans-serif" textLength="50.3" lengthAdjust="spacingAndGlyphs" stroke="#000" stroke-width="0.14">14 Apr 2021</text>
<text x="450.6" y="677" font-size="9.33" fill="#000" font-family="DejaVu Sans Condensed, Liberation Sans, sans-serif" textLength="48.4" lengthAdjust="spacingAndGlyphs" stroke="#000" stroke-width="0.14">3 May 2021</text>
<text x="514.6" y="677" font-size="9.33" fill="#000" font-family="DejaVu Sans Condensed, Liberation Sans, sans-serif" textLength="53" lengthAdjust="spacingAndGlyphs" stroke="#000" stroke-width="0.14">21 May 2021</text>
<text x="578" y="677" font-size="9.33" fill="#000" font-family="DejaVu Sans Condensed, Liberation Sans, sans-serif" textLength="43.5" lengthAdjust="spacingAndGlyphs" stroke="#000" stroke-width="0.14">9 Jun 2021</text>
<text x="642.2" y="677" font-size="9.33" fill="#000" font-family="DejaVu Sans Condensed, Liberation Sans, sans-serif" textLength="49" lengthAdjust="spacingAndGlyphs" stroke="#000" stroke-width="0.14">28 Jun 2021</text>
<text x="706.2" y="677" font-size="9.33" fill="#000" font-family="DejaVu Sans Condensed, Liberation Sans, sans-serif" textLength="46.2" lengthAdjust="spacingAndGlyphs" stroke="#000" stroke-width="0.14">16 Jul 2021</text>
<text x="770.6" y="677" font-size="9.33" fill="#000" font-family="DejaVu Sans Condensed, Liberation Sans, sans-serif" textLength="47.1" lengthAdjust="spacingAndGlyphs" stroke="#000" stroke-width="0.14">4 Aug 2021</text>
<text x="834.6" y="677" font-size="9.33" fill="#000" font-family="DejaVu Sans Condensed, Liberation Sans, sans-serif" textLength="51.7" lengthAdjust="spacingAndGlyphs" stroke="#000" stroke-width="0.14">23 Aug 2021</text>
<text x="898" y="677" font-size="9.33" fill="#000" font-family="DejaVu Sans Condensed, Liberation Sans, sans-serif" textLength="50.8" lengthAdjust="spacingAndGlyphs" stroke="#000" stroke-width="0.14">10 Sep 2021</text>
<g class="c">
<rect x="0" y="685" width="1212" height="1" fill="#e6e6e6"/>
<rect x="0" y="689" width="1213" height="18" fill="#f0f0f0"/>
<rect x="0" y="708" width="1213" height="3" fill="#f0f0f0"/>
<rect x="1211" y="689" width="1" height="18" fill="#e6e6e6"/>
<rect x="0" y="687" width="97" height="1" fill="#000"/>
<rect x="199" y="687" width="1014" height="1" fill="#000"/>
<rect x="97" y="687" width="102" height="18" fill="#fff"/>
<rect x="96" y="687" width="1" height="19" fill="#000"/>
<rect x="199" y="687" width="1" height="19" fill="#000"/>
<rect x="96" y="705" width="104" height="1" fill="#000"/>
<rect x="288" y="690" width="1" height="13" fill="#6a6a6a"/>
<rect x="392" y="690" width="1" height="13" fill="#6a6a6a"/>
<rect x="496" y="690" width="1" height="13" fill="#6a6a6a"/>
<rect x="572" y="690" width="1" height="13" fill="#6a6a6a"/>
<rect x="641" y="690" width="1" height="13" fill="#6a6a6a"/>
<rect x="717" y="690" width="1" height="13" fill="#6a6a6a"/>
<rect x="808" y="690" width="1" height="13" fill="#6a6a6a"/>
<rect x="901" y="690" width="1" height="13" fill="#6a6a6a"/>
</g>
<text x="16.1" y="702.3" font-size="12.5" fill="#707070" textLength="68" lengthAdjust="spacingAndGlyphs">EURUSD,H4</text>
<text x="106.9" y="702.3" font-size="12.5" fill="#000" textLength="82.3" lengthAdjust="spacingAndGlyphs">AUDUSD,Daily</text>
<text x="210.2" y="702.3" font-size="12.5" fill="#707070" textLength="66.5" lengthAdjust="spacingAndGlyphs">USDCHF,H4</text>
<text x="299" y="702.3" font-size="12.5" fill="#707070" textLength="81.1" lengthAdjust="spacingAndGlyphs">USDCAD,Daily</text>
<text x="402.4" y="702.3" font-size="12.5" fill="#707070" textLength="82.2" lengthAdjust="spacingAndGlyphs">USDCNH,Daily</text>
<text x="508.5" y="702.3" font-size="12.5" fill="#707070" textLength="50.9" lengthAdjust="spacingAndGlyphs">UKOil,H1</text>
<text x="582.2" y="702.3" font-size="12.5" fill="#707070" textLength="46.3" lengthAdjust="spacingAndGlyphs">DJ30,H1</text>
<text x="652.2" y="702.3" font-size="12.5" fill="#707070" textLength="51.6" lengthAdjust="spacingAndGlyphs">USDX,H1</text>
<text x="727.2" y="702.3" font-size="12.5" fill="#707070" textLength="68.6" lengthAdjust="spacingAndGlyphs">XAUUSD,H4</text>
<text x="820.3" y="702.3" font-size="12.5" fill="#707070" textLength="67.2" lengthAdjust="spacingAndGlyphs">GBPUSD,H1</text>
<path d="M1184.5 693L1180.5 696.5L1184.5 700Z" fill="#a0a0a0"/><path d="M1199.5 693L1203.5 696.5L1199.5 700Z" fill="#a0a0a0"/>
<text x="-2.5" y="18" font-size="10.67" fill="#383838" font-family="DejaVu Sans Condensed, Liberation Sans, sans-serif" textLength="6.3" lengthAdjust="spacingAndGlyphs">5</text>
<text x="13.8" y="18" font-size="10.67" fill="#383838" font-family="DejaVu Sans Condensed, Liberation Sans, sans-serif" textLength="18.8" lengthAdjust="spacingAndGlyphs">M30</text>
<text x="44.8" y="18" font-size="10.67" fill="#383838" font-family="DejaVu Sans Condensed, Liberation Sans, sans-serif" textLength="13.6" lengthAdjust="spacingAndGlyphs">H1</text>
<text x="71.8" y="18" font-size="10.67" fill="#383838" font-family="DejaVu Sans Condensed, Liberation Sans, sans-serif" textLength="13.6" lengthAdjust="spacingAndGlyphs">H4</text>
<text x="100.8" y="18" font-size="10.67" fill="#383838" font-family="DejaVu Sans Condensed, Liberation Sans, sans-serif" textLength="13.6" lengthAdjust="spacingAndGlyphs">D1</text>
<text x="128.5" y="18" font-size="10.67" fill="#383838" font-family="DejaVu Sans Condensed, Liberation Sans, sans-serif" textLength="15" lengthAdjust="spacingAndGlyphs">W1</text>
<text x="154.8" y="18" font-size="10.67" fill="#383838" font-family="DejaVu Sans Condensed, Liberation Sans, sans-serif" textLength="15.6" lengthAdjust="spacingAndGlyphs">MN</text>
<path d="M5.6 40.6L9.75 35.7L13.9 40.6Z" fill="#000"/>
<text x="18.5" y="41" font-size="9.33" fill="#000" font-family="DejaVu Sans Condensed, Liberation Sans, sans-serif" textLength="65" lengthAdjust="spacingAndGlyphs" stroke="#000" stroke-width="0.14">AUDUSD,Daily</text>
<text x="90" y="41" font-size="9.33" fill="#000" font-family="DejaVu Sans Condensed, Liberation Sans, sans-serif" textLength="141" lengthAdjust="spacingAndGlyphs" stroke="#000" stroke-width="0.14">0.72863 0.73007 0.72803 0.72941</text>
<rect x="5" y="48" width="222" height="60" fill="#fff" class="c"/>
<g class="c">
<path d="M6 49H58V73H115V106H6Z" fill="url(#gb)"/>
<path d="M173 49H225V106H117V73H173Z" fill="url(#gb)"/>
<path d="M6.5 49.5H57.5V73.5H114.5V105.5H6.5Z" fill="none" stroke="#0c0ca8" stroke-opacity="0.75"/>
<path d="M173.5 49.5H224.5V105.5H117.5V73.5H173.5Z" fill="none" stroke="#0c0ca8" stroke-opacity="0.75"/>
<rect x="10" y="72" width="44" height="1" fill="#9c9cff"/><rect x="10" y="73" width="44" height="1" fill="#0a0a90"/>
<rect x="177" y="72" width="44" height="1" fill="#9c9cff"/><rect x="177" y="73" width="44" height="1" fill="#0a0a90"/>
<rect x="60" y="49" width="111" height="22" fill="#b2b2b2"/><rect x="61" y="50" width="109" height="20" fill="#fff"/>
<rect x="61" y="50" width="20" height="20" fill="#fafafa"/><rect x="150" y="50" width="20" height="20" fill="#fafafa"/><rect x="62" y="51" width="18" height="18" fill="url(#gs)"/><rect x="151" y="51" width="18" height="18" fill="url(#gs)"/>
<rect x="81" y="50" width="1" height="20" fill="#b8b8b8"/><rect x="149" y="50" width="1" height="20" fill="#b8b8b8"/>
</g>
<path d="M67.5 58h6l-3 3.3z" fill="#5565b5"/><path d="M157 61h6l-3-3.3z" fill="#5565b5"/>
<text x="18" y="65" font-size="12" fill="#fff" textLength="27" lengthAdjust="spacingAndGlyphs">SELL</text>
<text x="186" y="65" font-size="12" fill="#fff" textLength="25" lengthAdjust="spacingAndGlyphs">BUY</text>
<text x="122" y="64" font-size="12" fill="#000" textLength="24.5" lengthAdjust="spacingAndGlyphs">3.00</text>
<text x="25.8" y="101" font-size="12" fill="#fff" textLength="24.6" lengthAdjust="spacingAndGlyphs" font-weight="bold">0.72</text>
<text x="135.8" y="101" font-size="12" fill="#fff" textLength="24.6" lengthAdjust="spacingAndGlyphs" font-weight="bold">0.72</text>
<text x="53.7" y="101.4" font-size="35" fill="#fff" textLength="36" lengthAdjust="spacingAndGlyphs">94</text>
<text x="163.7" y="101.4" font-size="35" fill="#fff" textLength="36" lengthAdjust="spacingAndGlyphs">95</text>
<text x="93" y="85.3" font-size="11" fill="#fff" textLength="7.5" lengthAdjust="spacingAndGlyphs" font-weight="bold">4</text>
<text x="204" y="85.3" font-size="11" fill="#fff" textLength="7.5" lengthAdjust="spacingAndGlyphs" font-weight="bold">7</text>
</svg></body></html>
